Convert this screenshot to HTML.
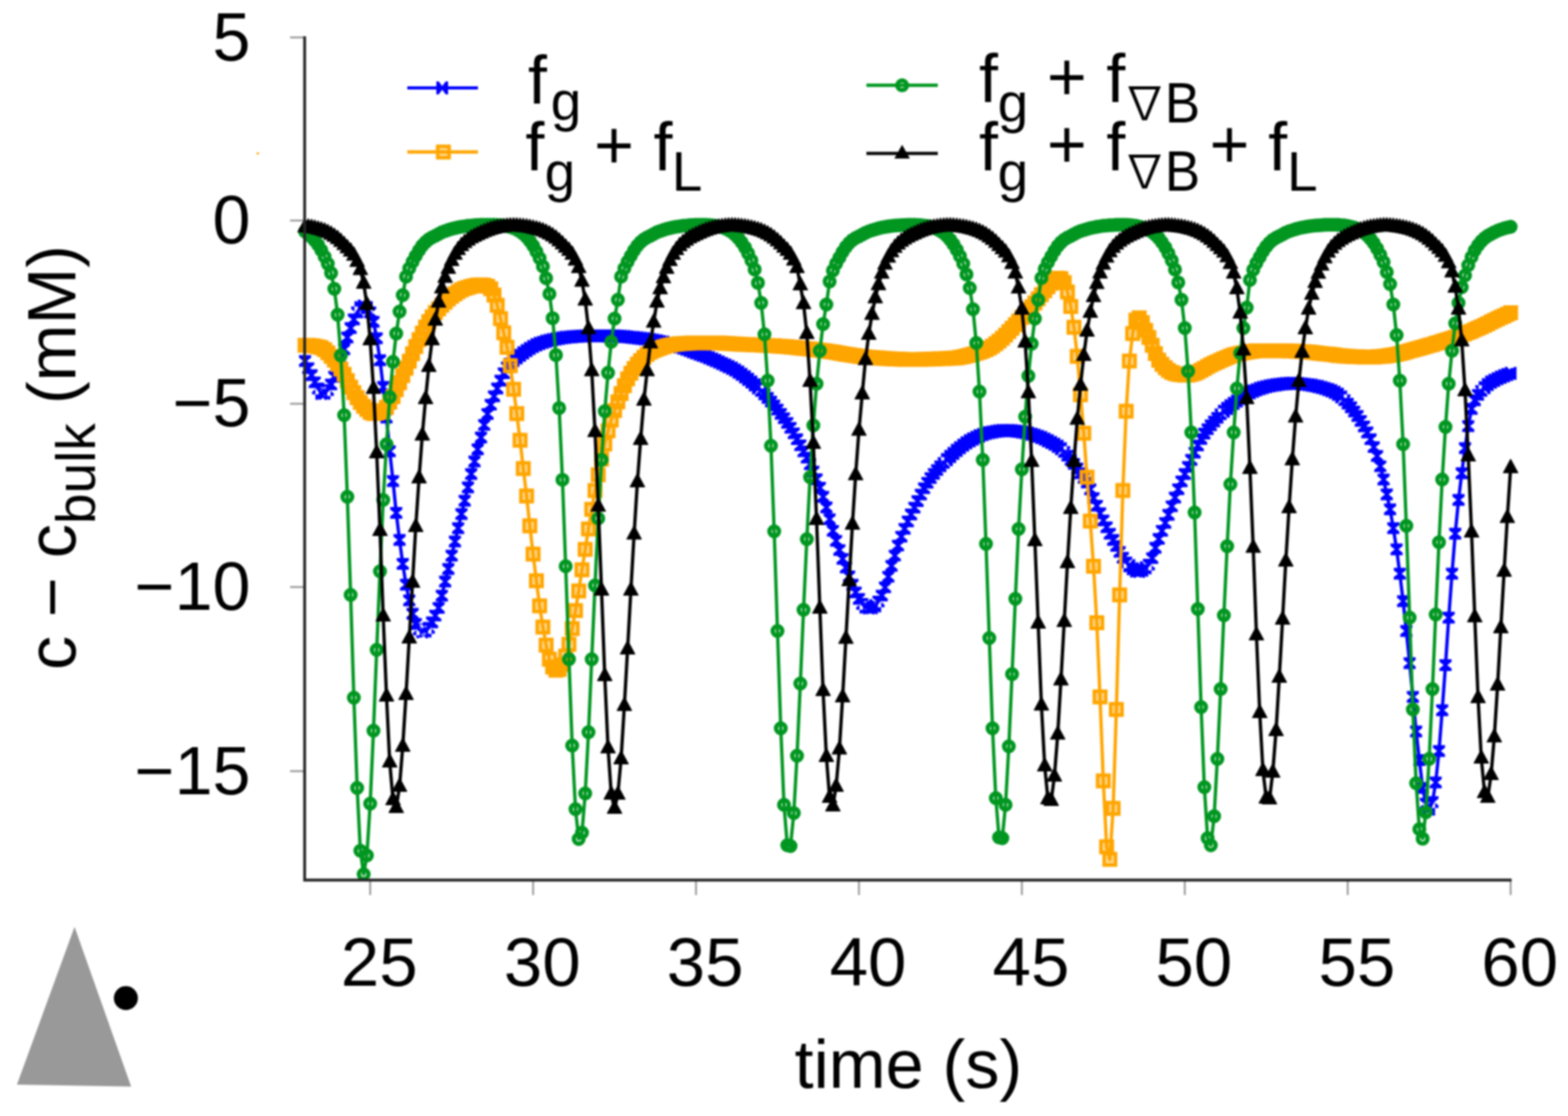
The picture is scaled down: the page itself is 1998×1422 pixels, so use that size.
<!DOCTYPE html>
<html lang="en"><head><meta charset="utf-8"><title>c - c_bulk vs time</title>
<style>
html,body{margin:0;padding:0;background:#fff;}
body{width:1998px;height:1422px;overflow:hidden;}
svg{display:block;filter:blur(1.2px);}
text{font-family:"Liberation Sans",sans-serif;fill:#000;}
</style></head>
<body>
<svg width="1998" height="1422" viewBox="0 0 1998 1422">
<rect width="1998" height="1422" fill="#fff"/>
<polygon points="95,1181 21.6,1382 167.1,1384.5" fill="#999"/>
<circle cx="160.4" cy="1271.7" r="15.3" fill="#000"/>
<rect x="327" y="194" width="3" height="3" fill="#ffa500" opacity="0.8"/>
<g><line x1="471.7" y1="1121" x2="471.7" y2="1140.5" stroke="#9a9a9a" stroke-width="2.4"/><line x1="679.3" y1="1121" x2="679.3" y2="1140.5" stroke="#9a9a9a" stroke-width="2.4"/><line x1="886.9" y1="1121" x2="886.9" y2="1140.5" stroke="#9a9a9a" stroke-width="2.4"/><line x1="1094.5" y1="1121" x2="1094.5" y2="1140.5" stroke="#9a9a9a" stroke-width="2.4"/><line x1="1302.1" y1="1121" x2="1302.1" y2="1140.5" stroke="#9a9a9a" stroke-width="2.4"/><line x1="1509.7" y1="1121" x2="1509.7" y2="1140.5" stroke="#9a9a9a" stroke-width="2.4"/><line x1="1717.3" y1="1121" x2="1717.3" y2="1140.5" stroke="#9a9a9a" stroke-width="2.4"/><line x1="1924.9" y1="1121" x2="1924.9" y2="1140.5" stroke="#9a9a9a" stroke-width="2.4"/><line x1="369.6" y1="47.7" x2="388" y2="47.7" stroke="#9a9a9a" stroke-width="2.4"/><line x1="369.6" y1="281" x2="388" y2="281" stroke="#9a9a9a" stroke-width="2.4"/><line x1="369.6" y1="514.5" x2="388" y2="514.5" stroke="#9a9a9a" stroke-width="2.4"/><line x1="369.6" y1="748" x2="388" y2="748" stroke="#9a9a9a" stroke-width="2.4"/><line x1="369.6" y1="982.6" x2="388" y2="982.6" stroke="#9a9a9a" stroke-width="2.4"/></g>
<g>
<polyline points="388.7,460 392.8,469.1 397,478 401.1,487.1 405.3,495 409.4,501.1 413.6,501 417.7,497 421.9,489.9 426,480 430.2,468 434.3,457 438.5,445 442.6,430 446.8,418 450.9,407 455.1,398 459.2,392 463.4,390 467.5,392 471.7,398 475.9,410 480,431 484.2,459 488.3,493 492.5,532 496.6,575 500.8,613 504.9,653.5 509.1,688 513.2,718.5 517.4,745 521.5,765 525.7,782 529.8,795 534,802 538.1,805 542.3,804 546.4,800 550.6,793 554.7,784.4 558.9,774.6 563,759 567.2,741 571.3,725 575.5,708 579.7,690 583.8,673 588,655 592.1,638 596.3,621 600.4,604 604.6,588 608.7,572.5 612.9,557.5 617,541.4 621.2,527.5 625.3,515.7 629.5,505 633.6,495 637.8,485 641.9,475.6 646.1,468.1 650.2,463.2 654.4,459.3 658.5,456 662.7,452.7 666.8,449.6 671,446.7 675.1,444 679.3,441.5 683.5,439.4 687.6,437.6 691.8,436.2 695.9,434.9 700.1,433.8 704.2,432.8 708.4,432 712.5,431.2 716.7,430.5 720.8,429.9 725,429.5 729.1,429.1 733.3,428.8 737.4,428.5 741.6,428.3 745.7,428.1 749.9,428 754,428 758.2,428 762.3,428 766.5,428 770.6,428 774.8,428.1 778.9,428.1 783.1,428.1 787.3,428.3 791.4,428.6 795.6,428.9 799.7,429.3 803.9,429.7 808,430.1 812.2,430.6 816.3,431.1 820.5,431.6 824.6,432.2 828.8,432.9 832.9,433.6 837.1,434.4 841.2,435.2 845.4,436.1 849.5,437.2 853.7,438.2 857.8,439.4 862,440.6 866.1,442 870.3,443.4 874.4,445 878.6,446.5 882.7,448.1 886.9,449.7 891.1,451.2 895.2,452.7 899.4,454.3 903.5,455.9 907.7,457.6 911.8,459.4 916,461.3 920.1,463.2 924.3,465.1 928.4,467.1 932.6,469.1 936.7,471.5 940.9,474.1 945,477 949.2,480.1 953.3,483.4 957.5,486.8 961.6,490.4 965.8,494.1 969.9,498.1 974.1,502.5 978.2,507 982.4,511.7 986.5,516.7 990.7,521.9 994.9,527.3 999,532.8 1003.2,538.8 1007.3,545.1 1011.5,552.1 1015.6,559.7 1019.8,567.4 1023.9,575.2 1028.1,583.2 1032.2,591.6 1036.4,600.8 1040.5,610.6 1044.7,621.4 1048.8,633 1053,646.5 1057.1,661.6 1061.3,676.3 1065.4,689.1 1069.6,700.8 1073.7,712.1 1077.9,723.2 1082,734.4 1086.2,745 1090.3,754.8 1094.5,763.1 1098.7,769.5 1102.8,773.5 1107,774.4 1111.1,774.1 1115.3,771.9 1119.4,766.3 1123.6,758.8 1127.7,748.4 1131.9,734.8 1136,721 1140.2,707.9 1144.3,695.2 1148.5,683.8 1152.6,673.8 1156.8,664.4 1160.9,655.5 1165.1,646.8 1169.2,638.5 1173.4,630.2 1177.5,622.2 1181.7,615.1 1185.8,609.1 1190,603.8 1194.1,598.9 1198.3,594.2 1202.5,589.8 1206.6,585.6 1210.8,581.6 1214.9,577.7 1219.1,573.9 1223.2,570.5 1227.4,567.3 1231.5,564.3 1235.7,561.6 1239.8,559.4 1244,557.3 1248.1,555.4 1252.3,553.7 1256.4,552.3 1260.6,551.3 1264.7,550.5 1268.9,549.7 1273,549.1 1277.2,548.6 1281.3,548.5 1285.5,548.6 1289.6,548.9 1293.8,549.3 1297.9,549.8 1302.1,550.4 1306.3,551.1 1310.4,552.1 1314.6,553.3 1318.7,554.6 1322.9,556 1327,557.6 1331.2,559.5 1335.3,561.6 1339.5,563.8 1343.6,566 1347.8,568.6 1351.9,571.7 1356.1,575.8 1360.2,580.6 1364.4,585.9 1368.5,591.2 1372.7,597 1376.8,603 1381,608.9 1385.1,614.8 1389.3,623.5 1393.4,634.6 1397.6,644.4 1401.7,654 1405.9,663.1 1410.1,671.8 1414.2,680.1 1418.4,688 1422.5,695.6 1426.7,703.2 1430.8,710.6 1435,716.6 1439.1,720.9 1443.3,724.7 1447.4,727.4 1451.6,727.9 1455.7,726.4 1459.9,723.5 1464,719.4 1468.2,711.2 1472.3,698 1476.5,686.7 1480.6,676.4 1484.8,666.3 1488.9,656 1493.1,645.1 1497.2,634 1501.4,623.3 1505.5,613.3 1509.7,604 1513.9,594.9 1518,586 1522.2,576.8 1526.3,567.6 1530.5,559.3 1534.6,552.5 1538.8,546.9 1542.9,541.9 1547.1,537.1 1551.2,532.3 1555.4,527.9 1559.5,524 1563.7,520.4 1567.8,517.1 1572,514 1576.1,511 1580.3,508 1584.4,505.2 1588.6,502.6 1592.7,500.4 1596.9,498.4 1601,496.7 1605.2,495.1 1609.3,493.9 1613.5,492.8 1617.7,491.8 1621.8,491 1626,490.4 1630.1,489.8 1634.3,489.3 1638.4,488.9 1642.6,488.5 1646.7,488.4 1650.9,488.5 1655,488.7 1659.2,489.2 1663.3,489.7 1667.5,490.3 1671.6,490.9 1675.8,491.7 1679.9,492.6 1684.1,493.7 1688.2,495 1692.4,496.4 1696.5,497.9 1700.7,499.9 1704.8,502.4 1709,505.8 1713.1,509.9 1717.3,514.3 1721.5,519 1725.6,524.3 1729.8,530 1733.9,536.3 1738.1,543.3 1742.2,551 1746.4,559.7 1750.5,569.7 1754.7,581 1758.8,594.1 1763,611 1767.1,630 1771.3,649 1775.4,673 1779.6,700 1783.7,731 1787.9,766 1792,804 1796.2,845 1800.3,888 1804.5,932 1808.6,968.5 1812.8,1004 1816.9,1024 1821.1,1031 1825.3,1022 1829.4,997 1833.6,957 1837.7,905 1841.9,847.5 1846,787 1850.2,731 1854.3,680 1858.5,637 1862.6,603 1866.8,571 1870.9,543 1875.1,521 1879.2,510 1883.4,503.1 1887.5,498.1 1891.7,494 1895.8,490 1900,486.9 1904.1,484.6 1908.3,482.5 1912.4,480.6 1916.6,478.9 1920.7,477.3 1924.9,475.7" fill="none" stroke="#0000ff" stroke-width="4.2" stroke-linejoin="round"/>
<path d="M381 452.6h15.4v3.1L391 460L396.4 464.3v3.1h-15.4v-3.1L386.4 460L381 455.7zM385.1 461.7h15.4v3.1L395.1 469.1L400.5 473.4v3.1h-15.4v-3.1L390.5 469.1L385.1 464.8zM389.3 470.6h15.4v3.1L399.3 478L404.7 482.3v3.1h-15.4v-3.1L394.7 478L389.3 473.7zM393.4 479.7h15.4v3.1L403.4 487.1L408.8 491.4v3.1h-15.4v-3.1L398.8 487.1L393.4 482.8zM397.6 487.6h15.4v3.1L407.6 495L413 499.3v3.1h-15.4v-3.1L403 495L397.6 490.7zM401.9 492.8v16.6h3.1L409.4 503.4L413.8 509.4h3.1v-16.6h-3.1L409.4 498.8L405 492.8zM406.1 492.7v16.6h3.1L413.6 503.3L418 509.3h3.1v-16.6h-3.1L413.6 498.7L409.2 492.7zM410 489.6h15.4v3.1L420 497L425.4 501.3v3.1h-15.4v-3.1L415.4 497L410 492.7zM414.2 482.5h15.4v3.1L424.2 489.9L429.6 494.2v3.1h-15.4v-3.1L419.6 489.9L414.2 485.6zM418.3 472.6h15.4v3.1L428.3 480L433.7 484.3v3.1h-15.4v-3.1L423.7 480L418.3 475.7zM422.5 460.6h15.4v3.1L432.5 468L437.9 472.3v3.1h-15.4v-3.1L427.9 468L422.5 463.7zM426.6 449.6h15.4v3.1L436.6 457L442 461.3v3.1h-15.4v-3.1L432 457L426.6 452.7zM430.8 437.6h15.4v3.1L440.8 445L446.2 449.3v3.1h-15.4v-3.1L436.2 445L430.8 440.7zM434.9 422.6h15.4v3.1L444.9 430L450.3 434.3v3.1h-15.4v-3.1L440.3 430L434.9 425.7zM439.1 410.6h15.4v3.1L449.1 418L454.5 422.3v3.1h-15.4v-3.1L444.5 418L439.1 413.7zM443.2 399.6h15.4v3.1L453.2 407L458.6 411.3v3.1h-15.4v-3.1L448.6 407L443.2 402.7zM447.4 390.6h15.4v3.1L457.4 398L462.8 402.3v3.1h-15.4v-3.1L452.8 398L447.4 393.7zM451.7 383.7v16.6h3.1L459.2 394.3L463.6 400.3h3.1v-16.6h-3.1L459.2 389.7L454.8 383.7zM455.9 381.7v16.6h3.1L463.4 392.3L467.8 398.3h3.1v-16.6h-3.1L463.4 387.7L459 381.7zM460 383.7v16.6h3.1L467.5 394.3L471.9 400.3h3.1v-16.6h-3.1L467.5 389.7L463.1 383.7zM464 390.6h15.4v3.1L474 398L479.4 402.3v3.1h-15.4v-3.1L469.4 398L464 393.7zM468.2 402.6h15.4v3.1L478.2 410L483.6 414.3v3.1h-15.4v-3.1L473.6 410L468.2 405.7zM472.3 423.6h15.4v3.1L482.3 431L487.7 435.3v3.1h-15.4v-3.1L477.7 431L472.3 426.7zM476.5 451.6h15.4v3.1L486.5 459L491.9 463.3v3.1h-15.4v-3.1L481.9 459L476.5 454.7zM480.6 485.6h15.4v3.1L490.6 493L496 497.3v3.1h-15.4v-3.1L486 493L480.6 488.7zM484.8 524.6h15.4v3.1L494.8 532L500.2 536.3v3.1h-15.4v-3.1L490.2 532L484.8 527.7zM488.9 567.6h15.4v3.1L498.9 575L504.3 579.3v3.1h-15.4v-3.1L494.3 575L488.9 570.7zM493.1 605.6h15.4v3.1L503.1 613L508.5 617.3v3.1h-15.4v-3.1L498.5 613L493.1 608.7zM497.2 646.1h15.4v3.1L507.2 653.5L512.6 657.8v3.1h-15.4v-3.1L502.6 653.5L497.2 649.2zM501.4 680.6h15.4v3.1L511.4 688L516.8 692.3v3.1h-15.4v-3.1L506.8 688L501.4 683.7zM505.5 711.1h15.4v3.1L515.5 718.5L520.9 722.8v3.1h-15.4v-3.1L510.9 718.5L505.5 714.2zM509.7 737.6h15.4v3.1L519.7 745L525.1 749.3v3.1h-15.4v-3.1L515.1 745L509.7 740.7zM513.8 757.6h15.4v3.1L523.8 765L529.2 769.3v3.1h-15.4v-3.1L519.2 765L513.8 760.7zM518 774.6h15.4v3.1L528 782L533.4 786.3v3.1h-15.4v-3.1L523.4 782L518 777.7zM522.1 787.6h15.4v3.1L532.1 795L537.5 799.3v3.1h-15.4v-3.1L527.5 795L522.1 790.7zM526.3 794.6h15.4v3.1L536.3 802L541.7 806.3v3.1h-15.4v-3.1L531.7 802L526.3 797.7zM530.6 796.7v16.6h3.1L538.1 807.3L542.5 813.3h3.1v-16.6h-3.1L538.1 802.7L533.7 796.7zM534.8 795.7v16.6h3.1L542.3 806.3L546.7 812.3h3.1v-16.6h-3.1L542.3 801.7L537.9 795.7zM538.7 792.6h15.4v3.1L548.7 800L554.1 804.3v3.1h-15.4v-3.1L544.1 800L538.7 795.7zM542.9 785.6h15.4v3.1L552.9 793L558.3 797.3v3.1h-15.4v-3.1L548.3 793L542.9 788.7zM547 777h15.4v3.1L557 784.4L562.4 788.7v3.1h-15.4v-3.1L552.4 784.4L547 780.1zM551.2 767.2h15.4v3.1L561.2 774.6L566.6 778.9v3.1h-15.4v-3.1L556.6 774.6L551.2 770.3zM555.3 751.6h15.4v3.1L565.3 759L570.7 763.3v3.1h-15.4v-3.1L560.7 759L555.3 754.7zM559.5 733.6h15.4v3.1L569.5 741L574.9 745.3v3.1h-15.4v-3.1L564.9 741L559.5 736.7zM563.6 717.6h15.4v3.1L573.6 725L579 729.3v3.1h-15.4v-3.1L569 725L563.6 720.7zM567.8 700.6h15.4v3.1L577.8 708L583.2 712.3v3.1h-15.4v-3.1L573.2 708L567.8 703.7zM572 682.6h15.4v3.1L582 690L587.4 694.3v3.1h-15.4v-3.1L577.4 690L572 685.7zM576.1 665.6h15.4v3.1L586.1 673L591.5 677.3v3.1h-15.4v-3.1L581.5 673L576.1 668.7zM580.3 647.6h15.4v3.1L590.3 655L595.7 659.3v3.1h-15.4v-3.1L585.7 655L580.3 650.7zM584.4 630.6h15.4v3.1L594.4 638L599.8 642.3v3.1h-15.4v-3.1L589.8 638L584.4 633.7zM588.6 613.6h15.4v3.1L598.6 621L604 625.3v3.1h-15.4v-3.1L594 621L588.6 616.7zM592.7 596.6h15.4v3.1L602.7 604L608.1 608.3v3.1h-15.4v-3.1L598.1 604L592.7 599.7zM596.9 580.6h15.4v3.1L606.9 588L612.3 592.3v3.1h-15.4v-3.1L602.3 588L596.9 583.7zM601 565.1h15.4v3.1L611 572.5L616.4 576.8v3.1h-15.4v-3.1L606.4 572.5L601 568.2zM605.2 550.1h15.4v3.1L615.2 557.5L620.6 561.8v3.1h-15.4v-3.1L610.6 557.5L605.2 553.2zM609.3 534h15.4v3.1L619.3 541.4L624.7 545.7v3.1h-15.4v-3.1L614.7 541.4L609.3 537.1zM613.5 520.1h15.4v3.1L623.5 527.5L628.9 531.8v3.1h-15.4v-3.1L618.9 527.5L613.5 523.2zM617.6 508.3h15.4v3.1L627.6 515.7L633 520v3.1h-15.4v-3.1L623 515.7L617.6 511.4zM621.8 497.6h15.4v3.1L631.8 505L637.2 509.3v3.1h-15.4v-3.1L627.2 505L621.8 500.7zM625.9 487.6h15.4v3.1L635.9 495L641.3 499.3v3.1h-15.4v-3.1L631.3 495L625.9 490.7zM630.1 477.6h15.4v3.1L640.1 485L645.5 489.3v3.1h-15.4v-3.1L635.5 485L630.1 480.7zM634.2 468.2h15.4v3.1L644.2 475.6L649.6 479.9v3.1h-15.4v-3.1L639.6 475.6L634.2 471.3zM638.4 460.7h15.4v3.1L648.4 468.1L653.8 472.4v3.1h-15.4v-3.1L643.8 468.1L638.4 463.8zM642.5 455.8h15.4v3.1L652.5 463.2L657.9 467.5v3.1h-15.4v-3.1L647.9 463.2L642.5 458.9zM646.9 451v16.6h3.1L654.4 461.6L658.8 467.6h3.1v-16.6h-3.1L654.4 457L650 451zM651 447.7v16.6h3.1L658.5 458.3L662.9 464.3h3.1v-16.6h-3.1L658.5 453.7L654.1 447.7zM655.2 444.4v16.6h3.1L662.7 455L667.1 461h3.1v-16.6h-3.1L662.7 450.4L658.3 444.4zM659.3 441.3v16.6h3.1L666.8 451.9L671.2 457.9h3.1v-16.6h-3.1L666.8 447.3L662.4 441.3zM663.5 438.4v16.6h3.1L671 449L675.4 455h3.1v-16.6h-3.1L671 444.4L666.6 438.4zM667.6 435.7v16.6h3.1L675.1 446.3L679.5 452.3h3.1v-16.6h-3.1L675.1 441.7L670.7 435.7zM671.8 433.2v16.6h3.1L679.3 443.8L683.7 449.8h3.1v-16.6h-3.1L679.3 439.2L674.9 433.2zM676 431.1v16.6h3.1L683.5 441.7L687.9 447.7h3.1v-16.6h-3.1L683.5 437.1L679.1 431.1zM680.1 429.3v16.6h3.1L687.6 439.9L692 445.9h3.1v-16.6h-3.1L687.6 435.3L683.2 429.3zM684.3 427.9v16.6h3.1L691.8 438.5L696.2 444.5h3.1v-16.6h-3.1L691.8 433.9L687.4 427.9zM688.4 426.6v16.6h3.1L695.9 437.2L700.3 443.2h3.1v-16.6h-3.1L695.9 432.6L691.5 426.6zM692.6 425.5v16.6h3.1L700.1 436.1L704.5 442.1h3.1v-16.6h-3.1L700.1 431.5L695.7 425.5zM696.7 424.5v16.6h3.1L704.2 435.1L708.6 441.1h3.1v-16.6h-3.1L704.2 430.5L699.8 424.5zM700.9 423.7v16.6h3.1L708.4 434.3L712.8 440.3h3.1v-16.6h-3.1L708.4 429.7L704 423.7zM705 422.9v16.6h3.1L712.5 433.5L716.9 439.5h3.1v-16.6h-3.1L712.5 428.9L708.1 422.9zM709.2 422.2v16.6h3.1L716.7 432.8L721.1 438.8h3.1v-16.6h-3.1L716.7 428.2L712.3 422.2zM713.3 421.6v16.6h3.1L720.8 432.2L725.2 438.2h3.1v-16.6h-3.1L720.8 427.6L716.4 421.6zM717.5 421.2v16.6h3.1L725 431.8L729.4 437.8h3.1v-16.6h-3.1L725 427.2L720.6 421.2zM721.6 420.8v16.6h3.1L729.1 431.4L733.5 437.4h3.1v-16.6h-3.1L729.1 426.8L724.7 420.8zM725.8 420.5v16.6h3.1L733.3 431.1L737.7 437.1h3.1v-16.6h-3.1L733.3 426.5L728.9 420.5zM729.9 420.2v16.6h3.1L737.4 430.8L741.8 436.8h3.1v-16.6h-3.1L737.4 426.2L733 420.2zM734.1 420v16.6h3.1L741.6 430.6L746 436.6h3.1v-16.6h-3.1L741.6 426L737.2 420zM738.2 419.8v16.6h3.1L745.7 430.4L750.1 436.4h3.1v-16.6h-3.1L745.7 425.8L741.3 419.8zM742.4 419.7v16.6h3.1L749.9 430.3L754.3 436.3h3.1v-16.6h-3.1L749.9 425.7L745.5 419.7zM746.5 419.7v16.6h3.1L754 430.3L758.4 436.3h3.1v-16.6h-3.1L754 425.7L749.6 419.7zM750.7 419.7v16.6h3.1L758.2 430.3L762.6 436.3h3.1v-16.6h-3.1L758.2 425.7L753.8 419.7zM754.8 419.7v16.6h3.1L762.3 430.3L766.7 436.3h3.1v-16.6h-3.1L762.3 425.7L757.9 419.7zM759 419.7v16.6h3.1L766.5 430.3L770.9 436.3h3.1v-16.6h-3.1L766.5 425.7L762.1 419.7zM763.1 419.7v16.6h3.1L770.6 430.3L775 436.3h3.1v-16.6h-3.1L770.6 425.7L766.2 419.7zM767.3 419.8v16.6h3.1L774.8 430.4L779.2 436.4h3.1v-16.6h-3.1L774.8 425.8L770.4 419.8zM771.4 419.8v16.6h3.1L778.9 430.4L783.3 436.4h3.1v-16.6h-3.1L778.9 425.8L774.5 419.8zM775.6 419.8v16.6h3.1L783.1 430.4L787.5 436.4h3.1v-16.6h-3.1L783.1 425.8L778.7 419.8zM779.8 420v16.6h3.1L787.3 430.6L791.7 436.6h3.1v-16.6h-3.1L787.3 426L782.9 420zM783.9 420.3v16.6h3.1L791.4 430.9L795.8 436.9h3.1v-16.6h-3.1L791.4 426.3L787 420.3zM788.1 420.6v16.6h3.1L795.6 431.2L800 437.2h3.1v-16.6h-3.1L795.6 426.6L791.2 420.6zM792.2 421v16.6h3.1L799.7 431.6L804.1 437.6h3.1v-16.6h-3.1L799.7 427L795.3 421zM796.4 421.4v16.6h3.1L803.9 432L808.3 438h3.1v-16.6h-3.1L803.9 427.4L799.5 421.4zM800.5 421.8v16.6h3.1L808 432.4L812.4 438.4h3.1v-16.6h-3.1L808 427.8L803.6 421.8zM804.7 422.3v16.6h3.1L812.2 432.9L816.6 438.9h3.1v-16.6h-3.1L812.2 428.3L807.8 422.3zM808.8 422.8v16.6h3.1L816.3 433.4L820.7 439.4h3.1v-16.6h-3.1L816.3 428.8L811.9 422.8zM813 423.3v16.6h3.1L820.5 433.9L824.9 439.9h3.1v-16.6h-3.1L820.5 429.3L816.1 423.3zM817.1 423.9v16.6h3.1L824.6 434.5L829 440.5h3.1v-16.6h-3.1L824.6 429.9L820.2 423.9zM821.3 424.6v16.6h3.1L828.8 435.2L833.2 441.2h3.1v-16.6h-3.1L828.8 430.6L824.4 424.6zM825.4 425.3v16.6h3.1L832.9 435.9L837.3 441.9h3.1v-16.6h-3.1L832.9 431.3L828.5 425.3zM829.6 426.1v16.6h3.1L837.1 436.7L841.5 442.7h3.1v-16.6h-3.1L837.1 432.1L832.7 426.1zM833.7 426.9v16.6h3.1L841.2 437.5L845.6 443.5h3.1v-16.6h-3.1L841.2 432.9L836.8 426.9zM837.9 427.8v16.6h3.1L845.4 438.4L849.8 444.4h3.1v-16.6h-3.1L845.4 433.8L841 427.8zM842 428.9v16.6h3.1L849.5 439.5L853.9 445.5h3.1v-16.6h-3.1L849.5 434.9L845.1 428.9zM846.2 429.9v16.6h3.1L853.7 440.5L858.1 446.5h3.1v-16.6h-3.1L853.7 435.9L849.3 429.9zM850.3 431.1v16.6h3.1L857.8 441.7L862.2 447.7h3.1v-16.6h-3.1L857.8 437.1L853.4 431.1zM854.5 432.3v16.6h3.1L862 442.9L866.4 448.9h3.1v-16.6h-3.1L862 438.3L857.6 432.3zM858.6 433.7v16.6h3.1L866.1 444.3L870.5 450.3h3.1v-16.6h-3.1L866.1 439.7L861.7 433.7zM862.8 435.1v16.6h3.1L870.3 445.7L874.7 451.7h3.1v-16.6h-3.1L870.3 441.1L865.9 435.1zM866.9 436.7v16.6h3.1L874.4 447.3L878.8 453.3h3.1v-16.6h-3.1L874.4 442.7L870 436.7zM871.1 438.2v16.6h3.1L878.6 448.8L883 454.8h3.1v-16.6h-3.1L878.6 444.2L874.2 438.2zM875.2 439.8v16.6h3.1L882.7 450.4L887.1 456.4h3.1v-16.6h-3.1L882.7 445.8L878.3 439.8zM879.4 441.4v16.6h3.1L886.9 452L891.3 458h3.1v-16.6h-3.1L886.9 447.4L882.5 441.4zM883.6 442.9v16.6h3.1L891.1 453.5L895.5 459.5h3.1v-16.6h-3.1L891.1 448.9L886.7 442.9zM887.7 444.4v16.6h3.1L895.2 455L899.6 461h3.1v-16.6h-3.1L895.2 450.4L890.8 444.4zM891.9 446v16.6h3.1L899.4 456.6L903.8 462.6h3.1v-16.6h-3.1L899.4 452L895 446zM896 447.6v16.6h3.1L903.5 458.2L907.9 464.2h3.1v-16.6h-3.1L903.5 453.6L899.1 447.6zM900.2 449.3v16.6h3.1L907.7 459.9L912.1 465.9h3.1v-16.6h-3.1L907.7 455.3L903.3 449.3zM904.3 451.1v16.6h3.1L911.8 461.7L916.2 467.7h3.1v-16.6h-3.1L911.8 457.1L907.4 451.1zM908.5 453v16.6h3.1L916 463.6L920.4 469.6h3.1v-16.6h-3.1L916 459L911.6 453zM912.6 454.9v16.6h3.1L920.1 465.5L924.5 471.5h3.1v-16.6h-3.1L920.1 460.9L915.7 454.9zM916.8 456.8v16.6h3.1L924.3 467.4L928.7 473.4h3.1v-16.6h-3.1L924.3 462.8L919.9 456.8zM920.9 458.8v16.6h3.1L928.4 469.4L932.8 475.4h3.1v-16.6h-3.1L928.4 464.8L924 458.8zM925.1 460.8v16.6h3.1L932.6 471.4L937 477.4h3.1v-16.6h-3.1L932.6 466.8L928.2 460.8zM929.2 463.2v16.6h3.1L936.7 473.8L941.1 479.8h3.1v-16.6h-3.1L936.7 469.2L932.3 463.2zM933.4 465.8v16.6h3.1L940.9 476.4L945.3 482.4h3.1v-16.6h-3.1L940.9 471.8L936.5 465.8zM937.5 468.7v16.6h3.1L945 479.3L949.4 485.3h3.1v-16.6h-3.1L945 474.7L940.6 468.7zM941.7 471.8v16.6h3.1L949.2 482.4L953.6 488.4h3.1v-16.6h-3.1L949.2 477.8L944.8 471.8zM945.8 475.1v16.6h3.1L953.3 485.7L957.7 491.7h3.1v-16.6h-3.1L953.3 481.1L948.9 475.1zM950 478.5v16.6h3.1L957.5 489.1L961.9 495.1h3.1v-16.6h-3.1L957.5 484.5L953.1 478.5zM954.1 482.1v16.6h3.1L961.6 492.7L966 498.7h3.1v-16.6h-3.1L961.6 488.1L957.2 482.1zM958.3 485.8v16.6h3.1L965.8 496.4L970.2 502.4h3.1v-16.6h-3.1L965.8 491.8L961.4 485.8zM962.2 490.7h15.4v3.1L972.2 498.1L977.6 502.4v3.1h-15.4v-3.1L967.6 498.1L962.2 493.8zM966.4 495.1h15.4v3.1L976.4 502.5L981.8 506.8v3.1h-15.4v-3.1L971.8 502.5L966.4 498.2zM970.5 499.6h15.4v3.1L980.5 507L985.9 511.3v3.1h-15.4v-3.1L975.9 507L970.5 502.7zM974.7 504.3h15.4v3.1L984.7 511.7L990.1 516v3.1h-15.4v-3.1L980.1 511.7L974.7 507.4zM978.8 509.3h15.4v3.1L988.8 516.7L994.2 521v3.1h-15.4v-3.1L984.2 516.7L978.8 512.4zM983 514.5h15.4v3.1L993 521.9L998.4 526.2v3.1h-15.4v-3.1L988.4 521.9L983 517.6zM987.2 519.9h15.4v3.1L997.2 527.3L1002.6 531.6v3.1h-15.4v-3.1L992.6 527.3L987.2 523zM991.3 525.4h15.4v3.1L1001.3 532.8L1006.7 537.1v3.1h-15.4v-3.1L996.7 532.8L991.3 528.5zM995.5 531.4h15.4v3.1L1005.5 538.8L1010.9 543.1v3.1h-15.4v-3.1L1000.9 538.8L995.5 534.5zM999.6 537.7h15.4v3.1L1009.6 545.1L1015 549.4v3.1h-15.4v-3.1L1005 545.1L999.6 540.8zM1003.8 544.7h15.4v3.1L1013.8 552.1L1019.2 556.4v3.1h-15.4v-3.1L1009.2 552.1L1003.8 547.8zM1007.9 552.3h15.4v3.1L1017.9 559.7L1023.3 564v3.1h-15.4v-3.1L1013.3 559.7L1007.9 555.4zM1012.1 560h15.4v3.1L1022.1 567.4L1027.5 571.7v3.1h-15.4v-3.1L1017.5 567.4L1012.1 563.1zM1016.2 567.8h15.4v3.1L1026.2 575.2L1031.6 579.5v3.1h-15.4v-3.1L1021.6 575.2L1016.2 570.9zM1020.4 575.8h15.4v3.1L1030.4 583.2L1035.8 587.5v3.1h-15.4v-3.1L1025.8 583.2L1020.4 578.9zM1024.5 584.2h15.4v3.1L1034.5 591.6L1039.9 595.9v3.1h-15.4v-3.1L1029.9 591.6L1024.5 587.3zM1028.7 593.4h15.4v3.1L1038.7 600.8L1044.1 605.1v3.1h-15.4v-3.1L1034.1 600.8L1028.7 596.5zM1032.8 603.2h15.4v3.1L1042.8 610.6L1048.2 614.9v3.1h-15.4v-3.1L1038.2 610.6L1032.8 606.3zM1037 614h15.4v3.1L1047 621.4L1052.4 625.7v3.1h-15.4v-3.1L1042.4 621.4L1037 617.1zM1041.1 625.6h15.4v3.1L1051.1 633L1056.5 637.3v3.1h-15.4v-3.1L1046.5 633L1041.1 628.7zM1045.3 639.1h15.4v3.1L1055.3 646.5L1060.7 650.8v3.1h-15.4v-3.1L1050.7 646.5L1045.3 642.2zM1049.4 654.2h15.4v3.1L1059.4 661.6L1064.8 665.9v3.1h-15.4v-3.1L1054.8 661.6L1049.4 657.3zM1053.6 668.9h15.4v3.1L1063.6 676.3L1069 680.6v3.1h-15.4v-3.1L1059 676.3L1053.6 672zM1057.7 681.7h15.4v3.1L1067.7 689.1L1073.1 693.4v3.1h-15.4v-3.1L1063.1 689.1L1057.7 684.8zM1061.9 693.4h15.4v3.1L1071.9 700.8L1077.3 705.1v3.1h-15.4v-3.1L1067.3 700.8L1061.9 696.5zM1066 704.7h15.4v3.1L1076 712.1L1081.4 716.4v3.1h-15.4v-3.1L1071.4 712.1L1066 707.8zM1070.2 715.8h15.4v3.1L1080.2 723.2L1085.6 727.5v3.1h-15.4v-3.1L1075.6 723.2L1070.2 718.9zM1074.3 727h15.4v3.1L1084.3 734.4L1089.7 738.7v3.1h-15.4v-3.1L1079.7 734.4L1074.3 730.1zM1078.5 737.6h15.4v3.1L1088.5 745L1093.9 749.3v3.1h-15.4v-3.1L1083.9 745L1078.5 740.7zM1082.6 747.4h15.4v3.1L1092.6 754.8L1098 759.1v3.1h-15.4v-3.1L1088 754.8L1082.6 750.5zM1086.8 755.7h15.4v3.1L1096.8 763.1L1102.2 767.4v3.1h-15.4v-3.1L1092.2 763.1L1086.8 758.8zM1091 762.1h15.4v3.1L1101 769.5L1106.4 773.8v3.1h-15.4v-3.1L1096.4 769.5L1091 765.2zM1095.3 765.2v16.6h3.1L1102.8 775.8L1107.2 781.8h3.1v-16.6h-3.1L1102.8 771.2L1098.4 765.2zM1099.5 766.1v16.6h3.1L1107 776.7L1111.4 782.7h3.1v-16.6h-3.1L1107 772.1L1102.6 766.1zM1103.6 765.8v16.6h3.1L1111.1 776.4L1115.5 782.4h3.1v-16.6h-3.1L1111.1 771.8L1106.7 765.8zM1107.8 763.6v16.6h3.1L1115.3 774.2L1119.7 780.2h3.1v-16.6h-3.1L1115.3 769.6L1110.9 763.6zM1111.7 758.9h15.4v3.1L1121.7 766.3L1127.1 770.6v3.1h-15.4v-3.1L1117.1 766.3L1111.7 762zM1115.9 751.4h15.4v3.1L1125.9 758.8L1131.3 763.1v3.1h-15.4v-3.1L1121.3 758.8L1115.9 754.5zM1120 741h15.4v3.1L1130 748.4L1135.4 752.7v3.1h-15.4v-3.1L1125.4 748.4L1120 744.1zM1124.2 727.4h15.4v3.1L1134.2 734.8L1139.6 739.1v3.1h-15.4v-3.1L1129.6 734.8L1124.2 730.5zM1128.3 713.6h15.4v3.1L1138.3 721L1143.7 725.3v3.1h-15.4v-3.1L1133.7 721L1128.3 716.7zM1132.5 700.5h15.4v3.1L1142.5 707.9L1147.9 712.2v3.1h-15.4v-3.1L1137.9 707.9L1132.5 703.6zM1136.6 687.8h15.4v3.1L1146.6 695.2L1152 699.5v3.1h-15.4v-3.1L1142 695.2L1136.6 690.9zM1140.8 676.4h15.4v3.1L1150.8 683.8L1156.2 688.1v3.1h-15.4v-3.1L1146.2 683.8L1140.8 679.5zM1144.9 666.4h15.4v3.1L1154.9 673.8L1160.3 678.1v3.1h-15.4v-3.1L1150.3 673.8L1144.9 669.5zM1149.1 657h15.4v3.1L1159.1 664.4L1164.5 668.7v3.1h-15.4v-3.1L1154.5 664.4L1149.1 660.1zM1153.2 648.1h15.4v3.1L1163.2 655.5L1168.6 659.8v3.1h-15.4v-3.1L1158.6 655.5L1153.2 651.2zM1157.4 639.4h15.4v3.1L1167.4 646.8L1172.8 651.1v3.1h-15.4v-3.1L1162.8 646.8L1157.4 642.5zM1161.5 631.1h15.4v3.1L1171.5 638.5L1176.9 642.8v3.1h-15.4v-3.1L1166.9 638.5L1161.5 634.2zM1165.7 622.8h15.4v3.1L1175.7 630.2L1181.1 634.5v3.1h-15.4v-3.1L1171.1 630.2L1165.7 625.9zM1169.8 614.8h15.4v3.1L1179.8 622.2L1185.2 626.5v3.1h-15.4v-3.1L1175.2 622.2L1169.8 617.9zM1174 607.7h15.4v3.1L1184 615.1L1189.4 619.4v3.1h-15.4v-3.1L1179.4 615.1L1174 610.8zM1178.1 601.7h15.4v3.1L1188.1 609.1L1193.5 613.4v3.1h-15.4v-3.1L1183.5 609.1L1178.1 604.8zM1182.3 596.4h15.4v3.1L1192.3 603.8L1197.7 608.1v3.1h-15.4v-3.1L1187.7 603.8L1182.3 599.5zM1186.4 591.5h15.4v3.1L1196.4 598.9L1201.8 603.2v3.1h-15.4v-3.1L1191.8 598.9L1186.4 594.6zM1190.6 586.8h15.4v3.1L1200.6 594.2L1206 598.5v3.1h-15.4v-3.1L1196 594.2L1190.6 589.9zM1194.8 582.4h15.4v3.1L1204.8 589.8L1210.2 594.1v3.1h-15.4v-3.1L1200.2 589.8L1194.8 585.5zM1199.1 577.3v16.6h3.1L1206.6 587.9L1211 593.9h3.1v-16.6h-3.1L1206.6 583.3L1202.2 577.3zM1203.3 573.3v16.6h3.1L1210.8 583.9L1215.2 589.9h3.1v-16.6h-3.1L1210.8 579.3L1206.4 573.3zM1207.4 569.4v16.6h3.1L1214.9 580L1219.3 586h3.1v-16.6h-3.1L1214.9 575.4L1210.5 569.4zM1211.6 565.6v16.6h3.1L1219.1 576.2L1223.5 582.2h3.1v-16.6h-3.1L1219.1 571.6L1214.7 565.6zM1215.7 562.2v16.6h3.1L1223.2 572.8L1227.6 578.8h3.1v-16.6h-3.1L1223.2 568.2L1218.8 562.2zM1219.9 559v16.6h3.1L1227.4 569.6L1231.8 575.6h3.1v-16.6h-3.1L1227.4 565L1223 559zM1224 556v16.6h3.1L1231.5 566.6L1235.9 572.6h3.1v-16.6h-3.1L1231.5 562L1227.1 556zM1228.2 553.3v16.6h3.1L1235.7 563.9L1240.1 569.9h3.1v-16.6h-3.1L1235.7 559.3L1231.3 553.3zM1232.3 551.1v16.6h3.1L1239.8 561.7L1244.2 567.7h3.1v-16.6h-3.1L1239.8 557.1L1235.4 551.1zM1236.5 549v16.6h3.1L1244 559.6L1248.4 565.6h3.1v-16.6h-3.1L1244 555L1239.6 549zM1240.6 547.1v16.6h3.1L1248.1 557.7L1252.5 563.7h3.1v-16.6h-3.1L1248.1 553.1L1243.7 547.1zM1244.8 545.4v16.6h3.1L1252.3 556L1256.7 562h3.1v-16.6h-3.1L1252.3 551.4L1247.9 545.4zM1248.9 544v16.6h3.1L1256.4 554.6L1260.8 560.6h3.1v-16.6h-3.1L1256.4 550L1252 544zM1253.1 543v16.6h3.1L1260.6 553.6L1265 559.6h3.1v-16.6h-3.1L1260.6 549L1256.2 543zM1257.2 542.2v16.6h3.1L1264.7 552.8L1269.1 558.8h3.1v-16.6h-3.1L1264.7 548.2L1260.3 542.2zM1261.4 541.4v16.6h3.1L1268.9 552L1273.3 558h3.1v-16.6h-3.1L1268.9 547.4L1264.5 541.4zM1265.5 540.8v16.6h3.1L1273 551.4L1277.4 557.4h3.1v-16.6h-3.1L1273 546.8L1268.6 540.8zM1269.7 540.3v16.6h3.1L1277.2 550.9L1281.6 556.9h3.1v-16.6h-3.1L1277.2 546.3L1272.8 540.3zM1273.8 540.2v16.6h3.1L1281.3 550.8L1285.7 556.8h3.1v-16.6h-3.1L1281.3 546.2L1276.9 540.2zM1278 540.3v16.6h3.1L1285.5 550.9L1289.9 556.9h3.1v-16.6h-3.1L1285.5 546.3L1281.1 540.3zM1282.1 540.6v16.6h3.1L1289.6 551.2L1294 557.2h3.1v-16.6h-3.1L1289.6 546.6L1285.2 540.6zM1286.3 541v16.6h3.1L1293.8 551.6L1298.2 557.6h3.1v-16.6h-3.1L1293.8 547L1289.4 541zM1290.4 541.5v16.6h3.1L1297.9 552.1L1302.3 558.1h3.1v-16.6h-3.1L1297.9 547.5L1293.5 541.5zM1294.6 542.1v16.6h3.1L1302.1 552.7L1306.5 558.7h3.1v-16.6h-3.1L1302.1 548.1L1297.7 542.1zM1298.8 542.8v16.6h3.1L1306.3 553.4L1310.7 559.4h3.1v-16.6h-3.1L1306.3 548.8L1301.9 542.8zM1302.9 543.8v16.6h3.1L1310.4 554.4L1314.8 560.4h3.1v-16.6h-3.1L1310.4 549.8L1306 543.8zM1307.1 545v16.6h3.1L1314.6 555.6L1319 561.6h3.1v-16.6h-3.1L1314.6 551L1310.2 545zM1311.2 546.3v16.6h3.1L1318.7 556.9L1323.1 562.9h3.1v-16.6h-3.1L1318.7 552.3L1314.3 546.3zM1315.4 547.7v16.6h3.1L1322.9 558.3L1327.3 564.3h3.1v-16.6h-3.1L1322.9 553.7L1318.5 547.7zM1319.5 549.3v16.6h3.1L1327 559.9L1331.4 565.9h3.1v-16.6h-3.1L1327 555.3L1322.6 549.3zM1323.7 551.2v16.6h3.1L1331.2 561.8L1335.6 567.8h3.1v-16.6h-3.1L1331.2 557.2L1326.8 551.2zM1327.8 553.3v16.6h3.1L1335.3 563.9L1339.7 569.9h3.1v-16.6h-3.1L1335.3 559.3L1330.9 553.3zM1332 555.5v16.6h3.1L1339.5 566.1L1343.9 572.1h3.1v-16.6h-3.1L1339.5 561.5L1335.1 555.5zM1336.1 557.7v16.6h3.1L1343.6 568.3L1348 574.3h3.1v-16.6h-3.1L1343.6 563.7L1339.2 557.7zM1340.3 560.3v16.6h3.1L1347.8 570.9L1352.2 576.9h3.1v-16.6h-3.1L1347.8 566.3L1343.4 560.3zM1344.4 563.4v16.6h3.1L1351.9 574L1356.3 580h3.1v-16.6h-3.1L1351.9 569.4L1347.5 563.4zM1348.4 568.4h15.4v3.1L1358.4 575.8L1363.8 580.1v3.1h-15.4v-3.1L1353.8 575.8L1348.4 571.5zM1352.5 573.2h15.4v3.1L1362.5 580.6L1367.9 584.9v3.1h-15.4v-3.1L1357.9 580.6L1352.5 576.3zM1356.7 578.5h15.4v3.1L1366.7 585.9L1372.1 590.2v3.1h-15.4v-3.1L1362.1 585.9L1356.7 581.6zM1360.8 583.8h15.4v3.1L1370.8 591.2L1376.2 595.5v3.1h-15.4v-3.1L1366.2 591.2L1360.8 586.9zM1365 589.6h15.4v3.1L1375 597L1380.4 601.3v3.1h-15.4v-3.1L1370.4 597L1365 592.7zM1369.1 595.6h15.4v3.1L1379.1 603L1384.5 607.3v3.1h-15.4v-3.1L1374.5 603L1369.1 598.7zM1373.3 601.5h15.4v3.1L1383.3 608.9L1388.7 613.2v3.1h-15.4v-3.1L1378.7 608.9L1373.3 604.6zM1377.4 607.4h15.4v3.1L1387.4 614.8L1392.8 619.1v3.1h-15.4v-3.1L1382.8 614.8L1377.4 610.5zM1381.6 616.1h15.4v3.1L1391.6 623.5L1397 627.8v3.1h-15.4v-3.1L1387 623.5L1381.6 619.2zM1385.7 627.2h15.4v3.1L1395.7 634.6L1401.1 638.9v3.1h-15.4v-3.1L1391.1 634.6L1385.7 630.3zM1389.9 637h15.4v3.1L1399.9 644.4L1405.3 648.7v3.1h-15.4v-3.1L1395.3 644.4L1389.9 640.1zM1394 646.6h15.4v3.1L1404 654L1409.4 658.3v3.1h-15.4v-3.1L1399.4 654L1394 649.7zM1398.2 655.7h15.4v3.1L1408.2 663.1L1413.6 667.4v3.1h-15.4v-3.1L1403.6 663.1L1398.2 658.8zM1402.4 664.4h15.4v3.1L1412.4 671.8L1417.8 676.1v3.1h-15.4v-3.1L1407.8 671.8L1402.4 667.5zM1406.5 672.7h15.4v3.1L1416.5 680.1L1421.9 684.4v3.1h-15.4v-3.1L1411.9 680.1L1406.5 675.8zM1410.7 680.6h15.4v3.1L1420.7 688L1426.1 692.3v3.1h-15.4v-3.1L1416.1 688L1410.7 683.7zM1414.8 688.2h15.4v3.1L1424.8 695.6L1430.2 699.9v3.1h-15.4v-3.1L1420.2 695.6L1414.8 691.3zM1419 695.8h15.4v3.1L1429 703.2L1434.4 707.5v3.1h-15.4v-3.1L1424.4 703.2L1419 698.9zM1423.1 703.2h15.4v3.1L1433.1 710.6L1438.5 714.9v3.1h-15.4v-3.1L1428.5 710.6L1423.1 706.3zM1427.3 709.2h15.4v3.1L1437.3 716.6L1442.7 720.9v3.1h-15.4v-3.1L1432.7 716.6L1427.3 712.3zM1431.6 712.6v16.6h3.1L1439.1 723.2L1443.5 729.2h3.1v-16.6h-3.1L1439.1 718.6L1434.7 712.6zM1435.8 716.4v16.6h3.1L1443.3 727L1447.7 733h3.1v-16.6h-3.1L1443.3 722.4L1438.9 716.4zM1439.9 719.1v16.6h3.1L1447.4 729.7L1451.8 735.7h3.1v-16.6h-3.1L1447.4 725.1L1443 719.1zM1444.1 719.6v16.6h3.1L1451.6 730.2L1456 736.2h3.1v-16.6h-3.1L1451.6 725.6L1447.2 719.6zM1448.2 718.1v16.6h3.1L1455.7 728.7L1460.1 734.7h3.1v-16.6h-3.1L1455.7 724.1L1451.3 718.1zM1452.4 715.2v16.6h3.1L1459.9 725.8L1464.3 731.8h3.1v-16.6h-3.1L1459.9 721.2L1455.5 715.2zM1456.3 712h15.4v3.1L1466.3 719.4L1471.7 723.7v3.1h-15.4v-3.1L1461.7 719.4L1456.3 715.1zM1460.5 703.8h15.4v3.1L1470.5 711.2L1475.9 715.5v3.1h-15.4v-3.1L1465.9 711.2L1460.5 706.9zM1464.6 690.6h15.4v3.1L1474.6 698L1480 702.3v3.1h-15.4v-3.1L1470 698L1464.6 693.7zM1468.8 679.3h15.4v3.1L1478.8 686.7L1484.2 691v3.1h-15.4v-3.1L1474.2 686.7L1468.8 682.4zM1472.9 669h15.4v3.1L1482.9 676.4L1488.3 680.7v3.1h-15.4v-3.1L1478.3 676.4L1472.9 672.1zM1477.1 658.9h15.4v3.1L1487.1 666.3L1492.5 670.6v3.1h-15.4v-3.1L1482.5 666.3L1477.1 662zM1481.2 648.6h15.4v3.1L1491.2 656L1496.6 660.3v3.1h-15.4v-3.1L1486.6 656L1481.2 651.7zM1485.4 637.7h15.4v3.1L1495.4 645.1L1500.8 649.4v3.1h-15.4v-3.1L1490.8 645.1L1485.4 640.8zM1489.5 626.6h15.4v3.1L1499.5 634L1504.9 638.3v3.1h-15.4v-3.1L1494.9 634L1489.5 629.7zM1493.7 615.9h15.4v3.1L1503.7 623.3L1509.1 627.6v3.1h-15.4v-3.1L1499.1 623.3L1493.7 619zM1497.8 605.9h15.4v3.1L1507.8 613.3L1513.2 617.6v3.1h-15.4v-3.1L1503.2 613.3L1497.8 609zM1502 596.6h15.4v3.1L1512 604L1517.4 608.3v3.1h-15.4v-3.1L1507.4 604L1502 599.7zM1506.2 587.5h15.4v3.1L1516.2 594.9L1521.6 599.2v3.1h-15.4v-3.1L1511.6 594.9L1506.2 590.6zM1510.3 578.6h15.4v3.1L1520.3 586L1525.7 590.3v3.1h-15.4v-3.1L1515.7 586L1510.3 581.7zM1514.5 569.4h15.4v3.1L1524.5 576.8L1529.9 581.1v3.1h-15.4v-3.1L1519.9 576.8L1514.5 572.5zM1518.6 560.2h15.4v3.1L1528.6 567.6L1534 571.9v3.1h-15.4v-3.1L1524 567.6L1518.6 563.3zM1522.8 551.9h15.4v3.1L1532.8 559.3L1538.2 563.6v3.1h-15.4v-3.1L1528.2 559.3L1522.8 555zM1526.9 545.1h15.4v3.1L1536.9 552.5L1542.3 556.8v3.1h-15.4v-3.1L1532.3 552.5L1526.9 548.2zM1531.1 539.5h15.4v3.1L1541.1 546.9L1546.5 551.2v3.1h-15.4v-3.1L1536.5 546.9L1531.1 542.6zM1535.2 534.5h15.4v3.1L1545.2 541.9L1550.6 546.2v3.1h-15.4v-3.1L1540.6 541.9L1535.2 537.6zM1539.4 529.7h15.4v3.1L1549.4 537.1L1554.8 541.4v3.1h-15.4v-3.1L1544.8 537.1L1539.4 532.8zM1543.5 524.9h15.4v3.1L1553.5 532.3L1558.9 536.6v3.1h-15.4v-3.1L1548.9 532.3L1543.5 528zM1547.7 520.5h15.4v3.1L1557.7 527.9L1563.1 532.2v3.1h-15.4v-3.1L1553.1 527.9L1547.7 523.6zM1552 515.7v16.6h3.1L1559.5 526.3L1563.9 532.3h3.1v-16.6h-3.1L1559.5 521.7L1555.1 515.7zM1556.2 512.1v16.6h3.1L1563.7 522.7L1568.1 528.7h3.1v-16.6h-3.1L1563.7 518.1L1559.3 512.1zM1560.3 508.8v16.6h3.1L1567.8 519.4L1572.2 525.4h3.1v-16.6h-3.1L1567.8 514.8L1563.4 508.8zM1564.5 505.7v16.6h3.1L1572 516.3L1576.4 522.3h3.1v-16.6h-3.1L1572 511.7L1567.6 505.7zM1568.6 502.7v16.6h3.1L1576.1 513.3L1580.5 519.3h3.1v-16.6h-3.1L1576.1 508.7L1571.7 502.7zM1572.8 499.7v16.6h3.1L1580.3 510.3L1584.7 516.3h3.1v-16.6h-3.1L1580.3 505.7L1575.9 499.7zM1576.9 496.9v16.6h3.1L1584.4 507.5L1588.8 513.5h3.1v-16.6h-3.1L1584.4 502.9L1580 496.9zM1581.1 494.3v16.6h3.1L1588.6 504.9L1593 510.9h3.1v-16.6h-3.1L1588.6 500.3L1584.2 494.3zM1585.2 492.1v16.6h3.1L1592.7 502.7L1597.1 508.7h3.1v-16.6h-3.1L1592.7 498.1L1588.3 492.1zM1589.4 490.1v16.6h3.1L1596.9 500.7L1601.3 506.7h3.1v-16.6h-3.1L1596.9 496.1L1592.5 490.1zM1593.5 488.4v16.6h3.1L1601 499L1605.4 505h3.1v-16.6h-3.1L1601 494.4L1596.6 488.4zM1597.7 486.8v16.6h3.1L1605.2 497.4L1609.6 503.4h3.1v-16.6h-3.1L1605.2 492.8L1600.8 486.8zM1601.8 485.6v16.6h3.1L1609.3 496.2L1613.7 502.2h3.1v-16.6h-3.1L1609.3 491.6L1604.9 485.6zM1606 484.5v16.6h3.1L1613.5 495.1L1617.9 501.1h3.1v-16.6h-3.1L1613.5 490.5L1609.1 484.5zM1610.2 483.5v16.6h3.1L1617.7 494.1L1622.1 500.1h3.1v-16.6h-3.1L1617.7 489.5L1613.3 483.5zM1614.3 482.7v16.6h3.1L1621.8 493.3L1626.2 499.3h3.1v-16.6h-3.1L1621.8 488.7L1617.4 482.7zM1618.5 482.1v16.6h3.1L1626 492.7L1630.4 498.7h3.1v-16.6h-3.1L1626 488.1L1621.6 482.1zM1622.6 481.5v16.6h3.1L1630.1 492.1L1634.5 498.1h3.1v-16.6h-3.1L1630.1 487.5L1625.7 481.5zM1626.8 481v16.6h3.1L1634.3 491.6L1638.7 497.6h3.1v-16.6h-3.1L1634.3 487L1629.9 481zM1630.9 480.6v16.6h3.1L1638.4 491.2L1642.8 497.2h3.1v-16.6h-3.1L1638.4 486.6L1634 480.6zM1635.1 480.2v16.6h3.1L1642.6 490.8L1647 496.8h3.1v-16.6h-3.1L1642.6 486.2L1638.2 480.2zM1639.2 480.1v16.6h3.1L1646.7 490.7L1651.1 496.7h3.1v-16.6h-3.1L1646.7 486.1L1642.3 480.1zM1643.4 480.2v16.6h3.1L1650.9 490.8L1655.3 496.8h3.1v-16.6h-3.1L1650.9 486.2L1646.5 480.2zM1647.5 480.4v16.6h3.1L1655 491L1659.4 497h3.1v-16.6h-3.1L1655 486.4L1650.6 480.4zM1651.7 480.9v16.6h3.1L1659.2 491.5L1663.6 497.5h3.1v-16.6h-3.1L1659.2 486.9L1654.8 480.9zM1655.8 481.4v16.6h3.1L1663.3 492L1667.7 498h3.1v-16.6h-3.1L1663.3 487.4L1658.9 481.4zM1660 482v16.6h3.1L1667.5 492.6L1671.9 498.6h3.1v-16.6h-3.1L1667.5 488L1663.1 482zM1664.1 482.6v16.6h3.1L1671.6 493.2L1676 499.2h3.1v-16.6h-3.1L1671.6 488.6L1667.2 482.6zM1668.3 483.4v16.6h3.1L1675.8 494L1680.2 500h3.1v-16.6h-3.1L1675.8 489.4L1671.4 483.4zM1672.4 484.3v16.6h3.1L1679.9 494.9L1684.3 500.9h3.1v-16.6h-3.1L1679.9 490.3L1675.5 484.3zM1676.6 485.4v16.6h3.1L1684.1 496L1688.5 502h3.1v-16.6h-3.1L1684.1 491.4L1679.7 485.4zM1680.7 486.7v16.6h3.1L1688.2 497.3L1692.6 503.3h3.1v-16.6h-3.1L1688.2 492.7L1683.8 486.7zM1684.9 488.1v16.6h3.1L1692.4 498.7L1696.8 504.7h3.1v-16.6h-3.1L1692.4 494.1L1688 488.1zM1689 489.6v16.6h3.1L1696.5 500.2L1700.9 506.2h3.1v-16.6h-3.1L1696.5 495.6L1692.1 489.6zM1693.2 491.6v16.6h3.1L1700.7 502.2L1705.1 508.2h3.1v-16.6h-3.1L1700.7 497.6L1696.3 491.6zM1697.3 494.1v16.6h3.1L1704.8 504.7L1709.2 510.7h3.1v-16.6h-3.1L1704.8 500.1L1700.4 494.1zM1701.5 497.5v16.6h3.1L1709 508.1L1713.4 514.1h3.1v-16.6h-3.1L1709 503.5L1704.6 497.5zM1705.4 502.5h15.4v3.1L1715.4 509.9L1720.8 514.2v3.1h-15.4v-3.1L1710.8 509.9L1705.4 505.6zM1709.6 506.9h15.4v3.1L1719.6 514.3L1725 518.6v3.1h-15.4v-3.1L1715 514.3L1709.6 510zM1713.8 511.6h15.4v3.1L1723.8 519L1729.2 523.3v3.1h-15.4v-3.1L1719.2 519L1713.8 514.7zM1717.9 516.9h15.4v3.1L1727.9 524.3L1733.3 528.6v3.1h-15.4v-3.1L1723.3 524.3L1717.9 520zM1722.1 522.6h15.4v3.1L1732.1 530L1737.5 534.3v3.1h-15.4v-3.1L1727.5 530L1722.1 525.7zM1726.2 528.9h15.4v3.1L1736.2 536.3L1741.6 540.6v3.1h-15.4v-3.1L1731.6 536.3L1726.2 532zM1730.4 535.9h15.4v3.1L1740.4 543.3L1745.8 547.6v3.1h-15.4v-3.1L1735.8 543.3L1730.4 539zM1734.5 543.6h15.4v3.1L1744.5 551L1749.9 555.3v3.1h-15.4v-3.1L1739.9 551L1734.5 546.7zM1738.7 552.3h15.4v3.1L1748.7 559.7L1754.1 564v3.1h-15.4v-3.1L1744.1 559.7L1738.7 555.4zM1742.8 562.3h15.4v3.1L1752.8 569.7L1758.2 574v3.1h-15.4v-3.1L1748.2 569.7L1742.8 565.4zM1747 573.6h15.4v3.1L1757 581L1762.4 585.3v3.1h-15.4v-3.1L1752.4 581L1747 576.7zM1751.1 586.7h15.4v3.1L1761.1 594.1L1766.5 598.4v3.1h-15.4v-3.1L1756.5 594.1L1751.1 589.8zM1755.3 603.6h15.4v3.1L1765.3 611L1770.7 615.3v3.1h-15.4v-3.1L1760.7 611L1755.3 606.7zM1759.4 622.6h15.4v3.1L1769.4 630L1774.8 634.3v3.1h-15.4v-3.1L1764.8 630L1759.4 625.7zM1763.6 641.6h15.4v3.1L1773.6 649L1779 653.3v3.1h-15.4v-3.1L1769 649L1763.6 644.7zM1767.7 665.6h15.4v3.1L1777.7 673L1783.1 677.3v3.1h-15.4v-3.1L1773.1 673L1767.7 668.7zM1771.9 692.6h15.4v3.1L1781.9 700L1787.3 704.3v3.1h-15.4v-3.1L1777.3 700L1771.9 695.7zM1776 723.6h15.4v3.1L1786 731L1791.4 735.3v3.1h-15.4v-3.1L1781.4 731L1776 726.7zM1780.2 758.6h15.4v3.1L1790.2 766L1795.6 770.3v3.1h-15.4v-3.1L1785.6 766L1780.2 761.7zM1784.3 796.6h15.4v3.1L1794.3 804L1799.7 808.3v3.1h-15.4v-3.1L1789.7 804L1784.3 799.7zM1788.5 837.6h15.4v3.1L1798.5 845L1803.9 849.3v3.1h-15.4v-3.1L1793.9 845L1788.5 840.7zM1792.6 880.6h15.4v3.1L1802.6 888L1808 892.3v3.1h-15.4v-3.1L1798 888L1792.6 883.7zM1796.8 924.6h15.4v3.1L1806.8 932L1812.2 936.3v3.1h-15.4v-3.1L1802.2 932L1796.8 927.7zM1800.9 961.1h15.4v3.1L1810.9 968.5L1816.3 972.8v3.1h-15.4v-3.1L1806.3 968.5L1800.9 964.2zM1805.1 996.6h15.4v3.1L1815.1 1004L1820.5 1008.3v3.1h-15.4v-3.1L1810.5 1004L1805.1 999.7zM1809.2 1016.6h15.4v3.1L1819.2 1024L1824.6 1028.3v3.1h-15.4v-3.1L1814.6 1024L1809.2 1019.7zM1813.6 1022.7v16.6h3.1L1821.1 1033.3L1825.5 1039.3h3.1v-16.6h-3.1L1821.1 1028.7L1816.7 1022.7zM1817.6 1014.6h15.4v3.1L1827.6 1022L1833 1026.3v3.1h-15.4v-3.1L1823 1022L1817.6 1017.7zM1821.7 989.6h15.4v3.1L1831.7 997L1837.1 1001.3v3.1h-15.4v-3.1L1827.1 997L1821.7 992.7zM1825.9 949.6h15.4v3.1L1835.9 957L1841.3 961.3v3.1h-15.4v-3.1L1831.3 957L1825.9 952.7zM1830 897.6h15.4v3.1L1840 905L1845.4 909.3v3.1h-15.4v-3.1L1835.4 905L1830 900.7zM1834.2 840.1h15.4v3.1L1844.2 847.5L1849.6 851.8v3.1h-15.4v-3.1L1839.6 847.5L1834.2 843.2zM1838.3 779.6h15.4v3.1L1848.3 787L1853.7 791.3v3.1h-15.4v-3.1L1843.7 787L1838.3 782.7zM1842.5 723.6h15.4v3.1L1852.5 731L1857.9 735.3v3.1h-15.4v-3.1L1847.9 731L1842.5 726.7zM1846.6 672.6h15.4v3.1L1856.6 680L1862 684.3v3.1h-15.4v-3.1L1852 680L1846.6 675.7zM1850.8 629.6h15.4v3.1L1860.8 637L1866.2 641.3v3.1h-15.4v-3.1L1856.2 637L1850.8 632.7zM1854.9 595.6h15.4v3.1L1864.9 603L1870.3 607.3v3.1h-15.4v-3.1L1860.3 603L1854.9 598.7zM1859.1 563.6h15.4v3.1L1869.1 571L1874.5 575.3v3.1h-15.4v-3.1L1864.5 571L1859.1 566.7zM1863.2 535.6h15.4v3.1L1873.2 543L1878.6 547.3v3.1h-15.4v-3.1L1868.6 543L1863.2 538.7zM1867.4 513.6h15.4v3.1L1877.4 521L1882.8 525.3v3.1h-15.4v-3.1L1872.8 521L1867.4 516.7zM1871.5 502.6h15.4v3.1L1881.5 510L1886.9 514.3v3.1h-15.4v-3.1L1876.9 510L1871.5 505.7zM1875.7 495.7h15.4v3.1L1885.7 503.1L1891.1 507.4v3.1h-15.4v-3.1L1881.1 503.1L1875.7 498.8zM1879.8 490.7h15.4v3.1L1889.8 498.1L1895.2 502.4v3.1h-15.4v-3.1L1885.2 498.1L1879.8 493.8zM1884.2 485.7v16.6h3.1L1891.7 496.3L1896.1 502.3h3.1v-16.6h-3.1L1891.7 491.7L1887.3 485.7zM1888.3 481.7v16.6h3.1L1895.8 492.3L1900.2 498.3h3.1v-16.6h-3.1L1895.8 487.7L1891.4 481.7zM1892.5 478.6v16.6h3.1L1900 489.2L1904.4 495.2h3.1v-16.6h-3.1L1900 484.6L1895.6 478.6zM1896.6 476.3v16.6h3.1L1904.1 486.9L1908.5 492.9h3.1v-16.6h-3.1L1904.1 482.3L1899.7 476.3zM1900.8 474.2v16.6h3.1L1908.3 484.8L1912.7 490.8h3.1v-16.6h-3.1L1908.3 480.2L1903.9 474.2zM1904.9 472.3v16.6h3.1L1912.4 482.9L1916.8 488.9h3.1v-16.6h-3.1L1912.4 478.3L1908 472.3zM1909.1 470.6v16.6h3.1L1916.6 481.2L1921 487.2h3.1v-16.6h-3.1L1916.6 476.6L1912.2 470.6zM1913.2 469v16.6h3.1L1920.7 479.6L1925.1 485.6h3.1v-16.6h-3.1L1920.7 475L1916.3 469zM1917.4 467.4v16.6h3.1L1924.9 478L1929.3 484h3.1v-16.6h-3.1L1924.9 473.4L1920.5 467.4z" fill="#0000ff" stroke="none"/>
<polyline points="388.7,440 392.8,440.1 397,440.5 401.1,441.1 405.3,441.9 409.4,442.9 413.6,445.6 417.7,449.6 421.9,454 426,458.7 430.2,464.2 434.3,470.3 438.5,477 442.6,485 446.8,493.2 450.9,500.3 455.1,506.8 459.2,512.8 463.4,517.7 467.5,521.8 471.7,525.4 475.9,527 480,526.5 484.2,525.2 488.3,523.3 492.5,518.9 496.6,512.6 500.8,505.5 504.9,496.6 509.1,487.7 513.2,478.6 517.4,469.3 521.5,460.2 525.7,450.8 529.8,441.5 534,432.7 538.1,424.5 542.3,416.8 546.4,409.8 550.6,403.7 554.7,398.3 558.9,393.4 563,389 567.2,384.9 571.3,381.1 575.5,377.6 579.7,374.6 583.8,371.8 588,369.3 592.1,367.5 596.3,366.2 600.4,365 604.6,364.1 608.7,363.2 612.9,363.1 617,363.6 621.2,364.7 625.3,367.9 629.5,376 633.6,389 637.8,406 641.9,424 646.1,442.5 650.2,466 654.4,496 658.5,527 662.7,561 666.8,597 671,632 675.1,670 679.3,706 683.5,740 687.6,772 691.8,799 695.9,822 700.1,840 704.2,850 708.4,854 712.5,853 716.7,847 720.8,836 725,821 729.1,801 733.3,778 737.4,753 741.6,726 745.7,700 749.9,674 754,649 758.2,625 762.3,605 766.5,585.1 770.6,565.8 774.8,549 778.9,535.2 783.1,523.2 787.3,512.1 791.4,501.6 795.6,491.6 799.7,482.8 803.9,475.6 808,469.4 812.2,464 816.3,459.4 820.5,455.3 824.6,451.6 828.8,448.7 832.9,446.6 837.1,444.9 841.2,443.4 845.4,442.1 849.5,440.8 853.7,439.7 857.8,439 862,438.5 866.1,438.1 870.3,437.7 874.4,437.4 878.6,437.2 882.7,437.1 886.9,437 891.1,437 895.2,437 899.4,437 903.5,437 907.7,437 911.8,437 916,437 920.1,437.2 924.3,437.4 928.4,437.7 932.6,438 936.7,438.3 940.9,438.5 945,438.7 949.2,438.9 953.3,439.1 957.5,439.3 961.6,439.4 965.8,439.6 969.9,439.8 974.1,440 978.2,440.2 982.4,440.4 986.5,440.6 990.7,440.9 994.9,441.2 999,441.5 1003.2,441.8 1007.3,442.2 1011.5,442.6 1015.6,443 1019.8,443.4 1023.9,443.9 1028.1,444.3 1032.2,444.8 1036.4,445.3 1040.5,445.8 1044.7,446.3 1048.8,446.8 1053,447.3 1057.1,447.9 1061.3,448.6 1065.4,449.3 1069.6,450 1073.7,450.7 1077.9,451.4 1082,452.1 1086.2,452.7 1090.3,453.3 1094.5,453.9 1098.7,454.4 1102.8,454.8 1107,455.2 1111.1,455.5 1115.3,455.8 1119.4,456.1 1123.6,456.4 1127.7,456.7 1131.9,457 1136,457.2 1140.2,457.4 1144.3,457.6 1148.5,457.8 1152.6,457.9 1156.8,458 1160.9,458 1165.1,458 1169.2,458 1173.4,457.9 1177.5,457.8 1181.7,457.7 1185.8,457.6 1190,457.4 1194.1,457.3 1198.3,457.1 1202.5,456.9 1206.6,456.7 1210.8,456.4 1214.9,456.2 1219.1,455.9 1223.2,455.3 1227.4,454.6 1231.5,453.6 1235.7,452.5 1239.8,451.3 1244,450.1 1248.1,448.8 1252.3,447.3 1256.4,445.6 1260.6,443.6 1264.7,441 1268.9,438 1273,434.7 1277.2,431.1 1281.3,426.9 1285.5,422.6 1289.6,418.3 1293.8,413.8 1297.9,409.2 1302.1,404.6 1306.3,400.1 1310.4,395.6 1314.6,390.9 1318.7,386 1322.9,380.8 1327,375.5 1331.2,370.5 1335.3,365.5 1339.5,361 1343.6,357.4 1347.8,354.5 1351.9,354.9 1356.1,360 1360.2,372 1364.4,390.5 1368.5,417 1372.7,454 1376.8,503 1381,552 1385.1,608 1389.3,664 1393.4,721.5 1397.6,793.5 1401.7,888 1405.9,995 1410.1,1079 1414.2,1095 1418.4,1030 1422.5,904 1426.7,758 1430.8,625 1435,524 1439.1,460 1443.3,425 1447.4,408 1451.6,405 1455.7,411 1459.9,421 1464,430.1 1468.2,440 1472.3,450.4 1476.5,459 1480.6,464.3 1484.8,468.5 1488.9,471.9 1493.1,474.5 1497.2,476 1501.4,476.9 1505.5,477.6 1509.7,477.9 1513.9,477.9 1518,477.1 1522.2,475.8 1526.3,473.9 1530.5,471.8 1534.6,469.4 1538.8,467 1542.9,464.8 1547.1,462.7 1551.2,461 1555.4,459.1 1559.5,457.2 1563.7,455.4 1567.8,453.8 1572,452.3 1576.1,451.2 1580.3,450.3 1584.4,449.5 1588.6,448.7 1592.7,448 1596.9,447.5 1601,447.1 1605.2,447 1609.3,447 1613.5,447 1617.7,447 1621.8,447 1626,447 1630.1,447 1634.3,447 1638.4,447.1 1642.6,447.2 1646.7,447.3 1650.9,447.5 1655,447.7 1659.2,447.9 1663.3,448.2 1667.5,448.5 1671.6,448.9 1675.8,449.4 1679.9,449.9 1684.1,450.4 1688.2,450.9 1692.4,451.3 1696.5,451.8 1700.7,452.3 1704.8,452.9 1709,453.3 1713.1,453.7 1717.3,454 1721.5,454.2 1725.6,454.4 1729.8,454.6 1733.9,454.8 1738.1,454.9 1742.2,455 1746.4,455 1750.5,454.9 1754.7,454.6 1758.8,454.3 1763,453.9 1767.1,453.4 1771.3,452.8 1775.4,452.3 1779.6,451.5 1783.7,450.6 1787.9,449.5 1792,448.3 1796.2,447.1 1800.3,445.9 1804.5,444.8 1808.6,443.7 1812.8,442.5 1816.9,441.3 1821.1,440.1 1825.3,438.9 1829.4,437.6 1833.6,436.4 1837.7,435.1 1841.9,433.8 1846,432.5 1850.2,431.2 1854.3,429.8 1858.5,428.4 1862.6,426.8 1866.8,425.2 1870.9,423.6 1875.1,421.9 1879.2,420.1 1883.4,418.3 1887.5,416.4 1891.7,414.5 1895.8,412.4 1900,410.3 1904.1,408.2 1908.3,406.2 1912.4,404.3 1916.6,402.4 1920.7,400.5 1924.9,398.6" fill="none" stroke="#ffa500" stroke-width="4.2" stroke-linejoin="round"/>
<path d="M381.4 432.7h14.6v14.6h-14.6zM385.5 432.8h14.6v14.6h-14.6zM389.7 433.2h14.6v14.6h-14.6zM393.8 433.8h14.6v14.6h-14.6zM398 434.6h14.6v14.6h-14.6zM402.1 435.6h14.6v14.6h-14.6zM406.3 438.3h14.6v14.6h-14.6zM410.4 442.3h14.6v14.6h-14.6zM414.6 446.7h14.6v14.6h-14.6zM418.7 451.4h14.6v14.6h-14.6zM422.9 456.9h14.6v14.6h-14.6zM427 463h14.6v14.6h-14.6zM431.2 469.7h14.6v14.6h-14.6zM435.3 477.7h14.6v14.6h-14.6zM439.5 485.9h14.6v14.6h-14.6zM443.6 493h14.6v14.6h-14.6zM447.8 499.5h14.6v14.6h-14.6zM451.9 505.5h14.6v14.6h-14.6zM456.1 510.4h14.6v14.6h-14.6zM460.2 514.5h14.6v14.6h-14.6zM464.4 518.1h14.6v14.6h-14.6zM468.6 519.7h14.6v14.6h-14.6zM472.7 519.2h14.6v14.6h-14.6zM476.9 517.9h14.6v14.6h-14.6zM481 516h14.6v14.6h-14.6zM485.2 511.6h14.6v14.6h-14.6zM489.3 505.3h14.6v14.6h-14.6zM493.5 498.2h14.6v14.6h-14.6zM497.6 489.3h14.6v14.6h-14.6zM501.8 480.4h14.6v14.6h-14.6zM505.9 471.3h14.6v14.6h-14.6zM510.1 462h14.6v14.6h-14.6zM514.2 452.9h14.6v14.6h-14.6zM518.4 443.5h14.6v14.6h-14.6zM522.5 434.2h14.6v14.6h-14.6zM526.7 425.4h14.6v14.6h-14.6zM530.8 417.2h14.6v14.6h-14.6zM535 409.5h14.6v14.6h-14.6zM539.1 402.5h14.6v14.6h-14.6zM543.3 396.4h14.6v14.6h-14.6zM547.4 391h14.6v14.6h-14.6zM551.6 386.1h14.6v14.6h-14.6zM555.7 381.7h14.6v14.6h-14.6zM559.9 377.6h14.6v14.6h-14.6zM564 373.8h14.6v14.6h-14.6zM568.2 370.3h14.6v14.6h-14.6zM572.4 367.3h14.6v14.6h-14.6zM576.5 364.5h14.6v14.6h-14.6zM580.7 362h14.6v14.6h-14.6zM584.8 360.2h14.6v14.6h-14.6zM589 358.9h14.6v14.6h-14.6zM593.1 357.7h14.6v14.6h-14.6zM597.3 356.8h14.6v14.6h-14.6zM601.4 355.9h14.6v14.6h-14.6zM605.6 355.8h14.6v14.6h-14.6zM609.7 356.3h14.6v14.6h-14.6zM613.9 357.4h14.6v14.6h-14.6zM618 360.6h14.6v14.6h-14.6zM622.2 368.7h14.6v14.6h-14.6zM626.3 381.7h14.6v14.6h-14.6zM630.5 398.7h14.6v14.6h-14.6zM634.6 416.7h14.6v14.6h-14.6zM638.8 435.2h14.6v14.6h-14.6zM642.9 458.7h14.6v14.6h-14.6zM647.1 488.7h14.6v14.6h-14.6zM651.2 519.7h14.6v14.6h-14.6zM655.4 553.7h14.6v14.6h-14.6zM659.5 589.7h14.6v14.6h-14.6zM663.7 624.7h14.6v14.6h-14.6zM667.8 662.7h14.6v14.6h-14.6zM672 698.7h14.6v14.6h-14.6zM676.2 732.7h14.6v14.6h-14.6zM680.3 764.7h14.6v14.6h-14.6zM684.5 791.7h14.6v14.6h-14.6zM688.6 814.7h14.6v14.6h-14.6zM692.8 832.7h14.6v14.6h-14.6zM696.9 842.7h14.6v14.6h-14.6zM701.1 846.7h14.6v14.6h-14.6zM705.2 845.7h14.6v14.6h-14.6zM709.4 839.7h14.6v14.6h-14.6zM713.5 828.7h14.6v14.6h-14.6zM717.7 813.7h14.6v14.6h-14.6zM721.8 793.7h14.6v14.6h-14.6zM726 770.7h14.6v14.6h-14.6zM730.1 745.7h14.6v14.6h-14.6zM734.3 718.7h14.6v14.6h-14.6zM738.4 692.7h14.6v14.6h-14.6zM742.6 666.7h14.6v14.6h-14.6zM746.7 641.7h14.6v14.6h-14.6zM750.9 617.7h14.6v14.6h-14.6zM755 597.7h14.6v14.6h-14.6zM759.2 577.8h14.6v14.6h-14.6zM763.3 558.5h14.6v14.6h-14.6zM767.5 541.7h14.6v14.6h-14.6zM771.6 527.9h14.6v14.6h-14.6zM775.8 515.9h14.6v14.6h-14.6zM780 504.8h14.6v14.6h-14.6zM784.1 494.3h14.6v14.6h-14.6zM788.3 484.3h14.6v14.6h-14.6zM792.4 475.5h14.6v14.6h-14.6zM796.6 468.3h14.6v14.6h-14.6zM800.7 462.1h14.6v14.6h-14.6zM804.9 456.7h14.6v14.6h-14.6zM809 452.1h14.6v14.6h-14.6zM813.2 448h14.6v14.6h-14.6zM817.3 444.3h14.6v14.6h-14.6zM821.5 441.4h14.6v14.6h-14.6zM825.6 439.3h14.6v14.6h-14.6zM829.8 437.6h14.6v14.6h-14.6zM833.9 436.1h14.6v14.6h-14.6zM838.1 434.8h14.6v14.6h-14.6zM842.2 433.5h14.6v14.6h-14.6zM846.4 432.4h14.6v14.6h-14.6zM850.5 431.7h14.6v14.6h-14.6zM854.7 431.2h14.6v14.6h-14.6zM858.8 430.8h14.6v14.6h-14.6zM863 430.4h14.6v14.6h-14.6zM867.1 430.1h14.6v14.6h-14.6zM871.3 429.9h14.6v14.6h-14.6zM875.4 429.8h14.6v14.6h-14.6zM879.6 429.7h14.6v14.6h-14.6zM883.8 429.7h14.6v14.6h-14.6zM887.9 429.7h14.6v14.6h-14.6zM892.1 429.7h14.6v14.6h-14.6zM896.2 429.7h14.6v14.6h-14.6zM900.4 429.7h14.6v14.6h-14.6zM904.5 429.7h14.6v14.6h-14.6zM908.7 429.7h14.6v14.6h-14.6zM912.8 429.9h14.6v14.6h-14.6zM917 430.1h14.6v14.6h-14.6zM921.1 430.4h14.6v14.6h-14.6zM925.3 430.7h14.6v14.6h-14.6zM929.4 431h14.6v14.6h-14.6zM933.6 431.2h14.6v14.6h-14.6zM937.7 431.4h14.6v14.6h-14.6zM941.9 431.6h14.6v14.6h-14.6zM946 431.8h14.6v14.6h-14.6zM950.2 432h14.6v14.6h-14.6zM954.3 432.1h14.6v14.6h-14.6zM958.5 432.3h14.6v14.6h-14.6zM962.6 432.5h14.6v14.6h-14.6zM966.8 432.7h14.6v14.6h-14.6zM970.9 432.9h14.6v14.6h-14.6zM975.1 433.1h14.6v14.6h-14.6zM979.2 433.3h14.6v14.6h-14.6zM983.4 433.6h14.6v14.6h-14.6zM987.6 433.9h14.6v14.6h-14.6zM991.7 434.2h14.6v14.6h-14.6zM995.9 434.5h14.6v14.6h-14.6zM1000 434.9h14.6v14.6h-14.6zM1004.2 435.3h14.6v14.6h-14.6zM1008.3 435.7h14.6v14.6h-14.6zM1012.5 436.1h14.6v14.6h-14.6zM1016.6 436.6h14.6v14.6h-14.6zM1020.8 437h14.6v14.6h-14.6zM1024.9 437.5h14.6v14.6h-14.6zM1029.1 438h14.6v14.6h-14.6zM1033.2 438.5h14.6v14.6h-14.6zM1037.4 439h14.6v14.6h-14.6zM1041.5 439.5h14.6v14.6h-14.6zM1045.7 440h14.6v14.6h-14.6zM1049.8 440.6h14.6v14.6h-14.6zM1054 441.3h14.6v14.6h-14.6zM1058.1 442h14.6v14.6h-14.6zM1062.3 442.7h14.6v14.6h-14.6zM1066.4 443.4h14.6v14.6h-14.6zM1070.6 444.1h14.6v14.6h-14.6zM1074.7 444.8h14.6v14.6h-14.6zM1078.9 445.4h14.6v14.6h-14.6zM1083 446h14.6v14.6h-14.6zM1087.2 446.6h14.6v14.6h-14.6zM1091.4 447.1h14.6v14.6h-14.6zM1095.5 447.5h14.6v14.6h-14.6zM1099.7 447.9h14.6v14.6h-14.6zM1103.8 448.2h14.6v14.6h-14.6zM1108 448.5h14.6v14.6h-14.6zM1112.1 448.8h14.6v14.6h-14.6zM1116.3 449.1h14.6v14.6h-14.6zM1120.4 449.4h14.6v14.6h-14.6zM1124.6 449.7h14.6v14.6h-14.6zM1128.7 449.9h14.6v14.6h-14.6zM1132.9 450.1h14.6v14.6h-14.6zM1137 450.3h14.6v14.6h-14.6zM1141.2 450.5h14.6v14.6h-14.6zM1145.3 450.6h14.6v14.6h-14.6zM1149.5 450.7h14.6v14.6h-14.6zM1153.6 450.7h14.6v14.6h-14.6zM1157.8 450.7h14.6v14.6h-14.6zM1161.9 450.7h14.6v14.6h-14.6zM1166.1 450.6h14.6v14.6h-14.6zM1170.2 450.5h14.6v14.6h-14.6zM1174.4 450.4h14.6v14.6h-14.6zM1178.5 450.3h14.6v14.6h-14.6zM1182.7 450.1h14.6v14.6h-14.6zM1186.8 450h14.6v14.6h-14.6zM1191 449.8h14.6v14.6h-14.6zM1195.2 449.6h14.6v14.6h-14.6zM1199.3 449.4h14.6v14.6h-14.6zM1203.5 449.1h14.6v14.6h-14.6zM1207.6 448.9h14.6v14.6h-14.6zM1211.8 448.6h14.6v14.6h-14.6zM1215.9 448h14.6v14.6h-14.6zM1220.1 447.3h14.6v14.6h-14.6zM1224.2 446.3h14.6v14.6h-14.6zM1228.4 445.2h14.6v14.6h-14.6zM1232.5 444h14.6v14.6h-14.6zM1236.7 442.8h14.6v14.6h-14.6zM1240.8 441.5h14.6v14.6h-14.6zM1245 440h14.6v14.6h-14.6zM1249.1 438.3h14.6v14.6h-14.6zM1253.3 436.3h14.6v14.6h-14.6zM1257.4 433.7h14.6v14.6h-14.6zM1261.6 430.7h14.6v14.6h-14.6zM1265.7 427.4h14.6v14.6h-14.6zM1269.9 423.8h14.6v14.6h-14.6zM1274 419.6h14.6v14.6h-14.6zM1278.2 415.3h14.6v14.6h-14.6zM1282.3 411h14.6v14.6h-14.6zM1286.5 406.5h14.6v14.6h-14.6zM1290.6 401.9h14.6v14.6h-14.6zM1294.8 397.3h14.6v14.6h-14.6zM1299 392.8h14.6v14.6h-14.6zM1303.1 388.3h14.6v14.6h-14.6zM1307.3 383.6h14.6v14.6h-14.6zM1311.4 378.7h14.6v14.6h-14.6zM1315.6 373.5h14.6v14.6h-14.6zM1319.7 368.2h14.6v14.6h-14.6zM1323.9 363.2h14.6v14.6h-14.6zM1328 358.2h14.6v14.6h-14.6zM1332.2 353.7h14.6v14.6h-14.6zM1336.3 350.1h14.6v14.6h-14.6zM1340.5 347.2h14.6v14.6h-14.6zM1344.6 347.6h14.6v14.6h-14.6zM1348.8 352.7h14.6v14.6h-14.6zM1352.9 364.7h14.6v14.6h-14.6zM1357.1 383.2h14.6v14.6h-14.6zM1361.2 409.7h14.6v14.6h-14.6zM1365.4 446.7h14.6v14.6h-14.6zM1369.5 495.7h14.6v14.6h-14.6zM1373.7 544.7h14.6v14.6h-14.6zM1377.8 600.7h14.6v14.6h-14.6zM1382 656.7h14.6v14.6h-14.6zM1386.1 714.2h14.6v14.6h-14.6zM1390.3 786.2h14.6v14.6h-14.6zM1394.4 880.7h14.6v14.6h-14.6zM1398.6 987.7h14.6v14.6h-14.6zM1402.8 1071.7h14.6v14.6h-14.6zM1406.9 1087.7h14.6v14.6h-14.6zM1411.1 1022.7h14.6v14.6h-14.6zM1415.2 896.7h14.6v14.6h-14.6zM1419.4 750.7h14.6v14.6h-14.6zM1423.5 617.7h14.6v14.6h-14.6zM1427.7 516.7h14.6v14.6h-14.6zM1431.8 452.7h14.6v14.6h-14.6zM1436 417.7h14.6v14.6h-14.6zM1440.1 400.7h14.6v14.6h-14.6zM1444.3 397.7h14.6v14.6h-14.6zM1448.4 403.7h14.6v14.6h-14.6zM1452.6 413.7h14.6v14.6h-14.6zM1456.7 422.8h14.6v14.6h-14.6zM1460.9 432.7h14.6v14.6h-14.6zM1465 443.1h14.6v14.6h-14.6zM1469.2 451.7h14.6v14.6h-14.6zM1473.3 457h14.6v14.6h-14.6zM1477.5 461.2h14.6v14.6h-14.6zM1481.6 464.6h14.6v14.6h-14.6zM1485.8 467.2h14.6v14.6h-14.6zM1489.9 468.7h14.6v14.6h-14.6zM1494.1 469.6h14.6v14.6h-14.6zM1498.2 470.3h14.6v14.6h-14.6zM1502.4 470.6h14.6v14.6h-14.6zM1506.6 470.6h14.6v14.6h-14.6zM1510.7 469.8h14.6v14.6h-14.6zM1514.9 468.5h14.6v14.6h-14.6zM1519 466.6h14.6v14.6h-14.6zM1523.2 464.5h14.6v14.6h-14.6zM1527.3 462.1h14.6v14.6h-14.6zM1531.5 459.7h14.6v14.6h-14.6zM1535.6 457.5h14.6v14.6h-14.6zM1539.8 455.4h14.6v14.6h-14.6zM1543.9 453.7h14.6v14.6h-14.6zM1548.1 451.8h14.6v14.6h-14.6zM1552.2 449.9h14.6v14.6h-14.6zM1556.4 448.1h14.6v14.6h-14.6zM1560.5 446.5h14.6v14.6h-14.6zM1564.7 445h14.6v14.6h-14.6zM1568.8 443.9h14.6v14.6h-14.6zM1573 443h14.6v14.6h-14.6zM1577.1 442.2h14.6v14.6h-14.6zM1581.3 441.4h14.6v14.6h-14.6zM1585.4 440.7h14.6v14.6h-14.6zM1589.6 440.2h14.6v14.6h-14.6zM1593.7 439.8h14.6v14.6h-14.6zM1597.9 439.7h14.6v14.6h-14.6zM1602 439.7h14.6v14.6h-14.6zM1606.2 439.7h14.6v14.6h-14.6zM1610.4 439.7h14.6v14.6h-14.6zM1614.5 439.7h14.6v14.6h-14.6zM1618.7 439.7h14.6v14.6h-14.6zM1622.8 439.7h14.6v14.6h-14.6zM1627 439.7h14.6v14.6h-14.6zM1631.1 439.8h14.6v14.6h-14.6zM1635.3 439.9h14.6v14.6h-14.6zM1639.4 440h14.6v14.6h-14.6zM1643.6 440.2h14.6v14.6h-14.6zM1647.7 440.4h14.6v14.6h-14.6zM1651.9 440.6h14.6v14.6h-14.6zM1656 440.9h14.6v14.6h-14.6zM1660.2 441.2h14.6v14.6h-14.6zM1664.3 441.6h14.6v14.6h-14.6zM1668.5 442.1h14.6v14.6h-14.6zM1672.6 442.6h14.6v14.6h-14.6zM1676.8 443.1h14.6v14.6h-14.6zM1680.9 443.6h14.6v14.6h-14.6zM1685.1 444h14.6v14.6h-14.6zM1689.2 444.5h14.6v14.6h-14.6zM1693.4 445h14.6v14.6h-14.6zM1697.5 445.6h14.6v14.6h-14.6zM1701.7 446h14.6v14.6h-14.6zM1705.8 446.4h14.6v14.6h-14.6zM1710 446.7h14.6v14.6h-14.6zM1714.2 446.9h14.6v14.6h-14.6zM1718.3 447.1h14.6v14.6h-14.6zM1722.5 447.3h14.6v14.6h-14.6zM1726.6 447.5h14.6v14.6h-14.6zM1730.8 447.6h14.6v14.6h-14.6zM1734.9 447.7h14.6v14.6h-14.6zM1739.1 447.7h14.6v14.6h-14.6zM1743.2 447.6h14.6v14.6h-14.6zM1747.4 447.3h14.6v14.6h-14.6zM1751.5 447h14.6v14.6h-14.6zM1755.7 446.6h14.6v14.6h-14.6zM1759.8 446.1h14.6v14.6h-14.6zM1764 445.5h14.6v14.6h-14.6zM1768.1 445h14.6v14.6h-14.6zM1772.3 444.2h14.6v14.6h-14.6zM1776.4 443.3h14.6v14.6h-14.6zM1780.6 442.2h14.6v14.6h-14.6zM1784.7 441h14.6v14.6h-14.6zM1788.9 439.8h14.6v14.6h-14.6zM1793 438.6h14.6v14.6h-14.6zM1797.2 437.5h14.6v14.6h-14.6zM1801.3 436.4h14.6v14.6h-14.6zM1805.5 435.2h14.6v14.6h-14.6zM1809.6 434h14.6v14.6h-14.6zM1813.8 432.8h14.6v14.6h-14.6zM1818 431.6h14.6v14.6h-14.6zM1822.1 430.3h14.6v14.6h-14.6zM1826.3 429.1h14.6v14.6h-14.6zM1830.4 427.8h14.6v14.6h-14.6zM1834.6 426.5h14.6v14.6h-14.6zM1838.7 425.2h14.6v14.6h-14.6zM1842.9 423.9h14.6v14.6h-14.6zM1847 422.5h14.6v14.6h-14.6zM1851.2 421.1h14.6v14.6h-14.6zM1855.3 419.5h14.6v14.6h-14.6zM1859.5 417.9h14.6v14.6h-14.6zM1863.6 416.3h14.6v14.6h-14.6zM1867.8 414.6h14.6v14.6h-14.6zM1871.9 412.8h14.6v14.6h-14.6zM1876.1 411h14.6v14.6h-14.6zM1880.2 409.1h14.6v14.6h-14.6zM1884.4 407.2h14.6v14.6h-14.6zM1888.5 405.1h14.6v14.6h-14.6zM1892.7 403h14.6v14.6h-14.6zM1896.8 400.9h14.6v14.6h-14.6zM1901 398.9h14.6v14.6h-14.6zM1905.1 397h14.6v14.6h-14.6zM1909.3 395.1h14.6v14.6h-14.6zM1913.4 393.2h14.6v14.6h-14.6zM1917.6 391.3h14.6v14.6h-14.6z" fill="#ffa500" fill-opacity="0.45" stroke="#ffa500" stroke-width="4.4"/>
<polyline points="388.7,295 392.8,298.2 397,302 401.1,306.5 405.3,312 409.4,318.8 413.6,327 417.7,336.1 421.9,348 426,368 430.2,401 434.3,453 438.5,529 442.6,633 446.8,758 450.9,889 455.1,1004 459.2,1084 463.4,1114 467.5,1090 471.7,1024 475.9,931 480,828 484.2,728 488.3,637 492.5,566 496.6,506 500.8,461 504.9,425 509.1,397 513.2,376 517.4,352.5 521.5,342 525.7,333.5 529.8,326 534,319 538.1,313 542.3,308.5 546.4,305 550.6,302.5 554.7,300.5 558.9,298.2 563,296 567.2,294.4 571.3,293 575.5,291.7 579.7,290.6 583.8,289.7 588,288.9 592.1,288.3 596.3,287.7 600.4,287.3 604.6,287 608.7,286.7 612.9,286.5 617,286.4 621.2,286.3 625.3,286.4 629.5,286.5 633.6,286.7 637.8,287 641.9,287.5 646.1,288.3 650.2,289.3 654.4,290.7 658.5,292.5 662.7,294.9 666.8,298 671,302 675.1,307 679.3,313 683.5,320.5 687.6,329 691.8,339.5 695.9,354.5 700.1,374.5 704.2,405.4 708.4,452.4 712.5,519.9 716.7,611.3 720.8,721.5 725,840 729.1,950 733.3,1031 737.4,1069 741.6,1061 745.7,1011 749.9,933 754,840 758.2,746 762.3,660.5 766.5,586 770.6,524 774.8,475 778.9,435.5 783.1,406 787.3,382 791.4,352.5 795.6,342 799.7,333.5 803.9,326 808,319 812.2,313 816.3,308.5 820.5,305 824.6,302.5 828.8,300.5 832.9,298.2 837.1,296 841.2,294.4 845.4,293 849.5,291.7 853.7,290.6 857.8,289.7 862,288.9 866.1,288.3 870.3,287.7 874.4,287.3 878.6,287 882.7,286.7 886.9,286.5 891.1,286.4 895.2,286.3 899.4,286.4 903.5,286.7 907.7,287.1 911.8,287.7 916,288.6 920.1,289.6 924.3,291.2 928.4,293.1 932.6,295.8 936.7,299.1 940.9,303.4 945,308.7 949.2,315.1 953.3,322.9 957.5,331.9 961.6,343.4 965.8,360.4 969.9,386 974.1,426 978.2,485 982.4,568 986.5,677 990.7,804 994.9,928 999,1025.5 1003.2,1077 1007.3,1078 1011.5,1036 1015.6,963 1019.8,871 1023.9,777 1028.1,687 1032.2,608 1036.4,542 1040.5,489 1044.7,447 1048.8,413 1053,388 1057.1,358.6 1061.3,344.7 1065.4,335.9 1069.6,328.2 1073.7,321 1077.9,314.6 1082,309.7 1086.2,305.9 1090.3,303.2 1094.5,301.1 1098.7,298.9 1102.8,296.6 1107,294.8 1111.1,293.4 1115.3,292.1 1119.4,290.9 1123.6,289.9 1127.7,289.2 1131.9,288.5 1136,287.9 1140.2,287.4 1144.3,287.1 1148.5,286.8 1152.6,286.6 1156.8,286.4 1160.9,286.3 1165.1,286.4 1169.2,286.6 1173.4,286.9 1177.5,287.3 1181.7,288 1185.8,289 1190,290.2 1194.1,291.9 1198.3,294.1 1202.5,297 1206.6,300.7 1210.8,305.4 1214.9,311.1 1219.1,318.1 1223.2,326.3 1227.4,336 1231.5,349.6 1235.7,367 1239.8,394 1244,437 1248.1,499 1252.3,586 1256.4,693 1260.6,813 1264.7,928 1268.9,1017 1273,1067 1277.2,1068 1281.3,1025.5 1285.5,951 1289.6,859 1293.8,763 1297.9,674 1302.1,598 1306.3,531 1310.4,479 1314.6,438 1318.7,406 1322.9,382 1327,354.2 1331.2,342.9 1335.3,334.3 1339.5,326.7 1343.6,319.7 1347.8,313.5 1351.9,308.9 1356.1,305.3 1360.2,302.7 1364.4,300.7 1368.5,298.4 1372.7,296.2 1376.8,294.5 1381,293.1 1385.1,291.9 1389.3,290.7 1393.4,289.8 1397.6,289 1401.7,288.3 1405.9,287.7 1410.1,287.3 1414.2,287 1418.4,286.8 1422.5,286.5 1426.7,286.4 1430.8,286.3 1435,286.4 1439.1,286.7 1443.3,287.1 1447.4,287.7 1451.6,288.6 1455.7,289.6 1459.9,291.2 1464,293.1 1468.2,295.8 1472.3,299.1 1476.5,303.4 1480.6,308.7 1484.8,315.1 1488.9,322.9 1493.1,331.9 1497.2,343.5 1501.4,359.9 1505.5,382 1509.7,418 1513.9,473 1518,551 1522.2,653 1526.3,776 1530.5,901 1534.6,1003 1538.8,1068 1542.9,1077 1547.1,1040 1551.2,967 1555.4,878 1559.5,784 1563.7,696 1567.8,617 1572,551 1576.1,495 1580.3,450 1584.4,418 1588.6,392 1592.7,356.8 1596.9,343.8 1601,335.1 1605.2,327.5 1609.3,320.3 1613.5,314.1 1617.7,309.3 1621.8,305.6 1626,303 1630.1,300.9 1634.3,298.7 1638.4,296.4 1642.6,294.7 1646.7,293.3 1650.9,292 1655,290.8 1659.2,289.9 1663.3,289.1 1667.5,288.4 1671.6,287.8 1675.8,287.4 1679.9,287.1 1684.1,286.8 1688.2,286.5 1692.4,286.4 1696.5,286.3 1700.7,286.4 1704.8,286.5 1709,286.8 1713.1,287.2 1717.3,287.9 1721.5,288.8 1725.6,289.9 1729.8,291.5 1733.9,293.6 1738.1,296.4 1742.2,299.9 1746.4,304.4 1750.5,309.8 1754.7,316.6 1758.8,324.6 1763,333.9 1767.1,346.7 1771.3,362 1775.4,388 1779.6,427 1783.7,485 1787.9,566 1792,670 1796.2,787 1800.3,904 1804.5,998 1808.6,1056.5 1812.8,1068.6 1816.9,1035 1821.1,967 1825.3,878 1829.4,783 1833.6,691 1837.7,611 1841.9,544 1846,489 1850.2,447 1854.3,412 1858.5,386 1862.6,366 1866.8,351 1870.9,338 1875.1,327.5 1879.2,319 1883.4,312.5 1887.5,307.5 1891.7,303.5 1895.8,300.5 1900,298.1 1904.1,295.9 1908.3,294 1912.4,292.4 1916.6,291 1920.7,289.9 1924.9,289" fill="none" stroke="#009620" stroke-width="4.2" stroke-linejoin="round"/>
<path d="M382.6 295a6.1 6.1 0 1 0 12.2 0a6.1 6.1 0 1 0 -12.2 0M386.7 298.2a6.1 6.1 0 1 0 12.2 0a6.1 6.1 0 1 0 -12.2 0M390.9 302a6.1 6.1 0 1 0 12.2 0a6.1 6.1 0 1 0 -12.2 0M395 306.5a6.1 6.1 0 1 0 12.2 0a6.1 6.1 0 1 0 -12.2 0M399.2 312a6.1 6.1 0 1 0 12.2 0a6.1 6.1 0 1 0 -12.2 0M403.3 318.8a6.1 6.1 0 1 0 12.2 0a6.1 6.1 0 1 0 -12.2 0M407.5 327a6.1 6.1 0 1 0 12.2 0a6.1 6.1 0 1 0 -12.2 0M411.6 336.1a6.1 6.1 0 1 0 12.2 0a6.1 6.1 0 1 0 -12.2 0M415.8 348a6.1 6.1 0 1 0 12.2 0a6.1 6.1 0 1 0 -12.2 0M419.9 368a6.1 6.1 0 1 0 12.2 0a6.1 6.1 0 1 0 -12.2 0M424.1 401a6.1 6.1 0 1 0 12.2 0a6.1 6.1 0 1 0 -12.2 0M428.2 453a6.1 6.1 0 1 0 12.2 0a6.1 6.1 0 1 0 -12.2 0M432.4 529a6.1 6.1 0 1 0 12.2 0a6.1 6.1 0 1 0 -12.2 0M436.5 633a6.1 6.1 0 1 0 12.2 0a6.1 6.1 0 1 0 -12.2 0M440.7 758a6.1 6.1 0 1 0 12.2 0a6.1 6.1 0 1 0 -12.2 0M444.8 889a6.1 6.1 0 1 0 12.2 0a6.1 6.1 0 1 0 -12.2 0M449 1004a6.1 6.1 0 1 0 12.2 0a6.1 6.1 0 1 0 -12.2 0M453.1 1084a6.1 6.1 0 1 0 12.2 0a6.1 6.1 0 1 0 -12.2 0M457.3 1114a6.1 6.1 0 1 0 12.2 0a6.1 6.1 0 1 0 -12.2 0M461.4 1090a6.1 6.1 0 1 0 12.2 0a6.1 6.1 0 1 0 -12.2 0M465.6 1024a6.1 6.1 0 1 0 12.2 0a6.1 6.1 0 1 0 -12.2 0M469.8 931a6.1 6.1 0 1 0 12.2 0a6.1 6.1 0 1 0 -12.2 0M473.9 828a6.1 6.1 0 1 0 12.2 0a6.1 6.1 0 1 0 -12.2 0M478.1 728a6.1 6.1 0 1 0 12.2 0a6.1 6.1 0 1 0 -12.2 0M482.2 637a6.1 6.1 0 1 0 12.2 0a6.1 6.1 0 1 0 -12.2 0M486.4 566a6.1 6.1 0 1 0 12.2 0a6.1 6.1 0 1 0 -12.2 0M490.5 506a6.1 6.1 0 1 0 12.2 0a6.1 6.1 0 1 0 -12.2 0M494.7 461a6.1 6.1 0 1 0 12.2 0a6.1 6.1 0 1 0 -12.2 0M498.8 425a6.1 6.1 0 1 0 12.2 0a6.1 6.1 0 1 0 -12.2 0M503 397a6.1 6.1 0 1 0 12.2 0a6.1 6.1 0 1 0 -12.2 0M507.1 376a6.1 6.1 0 1 0 12.2 0a6.1 6.1 0 1 0 -12.2 0M511.3 352.5a6.1 6.1 0 1 0 12.2 0a6.1 6.1 0 1 0 -12.2 0M515.4 342a6.1 6.1 0 1 0 12.2 0a6.1 6.1 0 1 0 -12.2 0M519.6 333.5a6.1 6.1 0 1 0 12.2 0a6.1 6.1 0 1 0 -12.2 0M523.7 326a6.1 6.1 0 1 0 12.2 0a6.1 6.1 0 1 0 -12.2 0M527.9 319a6.1 6.1 0 1 0 12.2 0a6.1 6.1 0 1 0 -12.2 0M532 313a6.1 6.1 0 1 0 12.2 0a6.1 6.1 0 1 0 -12.2 0M536.2 308.5a6.1 6.1 0 1 0 12.2 0a6.1 6.1 0 1 0 -12.2 0M540.3 305a6.1 6.1 0 1 0 12.2 0a6.1 6.1 0 1 0 -12.2 0M544.5 302.5a6.1 6.1 0 1 0 12.2 0a6.1 6.1 0 1 0 -12.2 0M548.6 300.5a6.1 6.1 0 1 0 12.2 0a6.1 6.1 0 1 0 -12.2 0M552.8 298.2a6.1 6.1 0 1 0 12.2 0a6.1 6.1 0 1 0 -12.2 0M556.9 296a6.1 6.1 0 1 0 12.2 0a6.1 6.1 0 1 0 -12.2 0M561.1 294.4a6.1 6.1 0 1 0 12.2 0a6.1 6.1 0 1 0 -12.2 0M565.2 293a6.1 6.1 0 1 0 12.2 0a6.1 6.1 0 1 0 -12.2 0M569.4 291.7a6.1 6.1 0 1 0 12.2 0a6.1 6.1 0 1 0 -12.2 0M573.6 290.6a6.1 6.1 0 1 0 12.2 0a6.1 6.1 0 1 0 -12.2 0M577.7 289.7a6.1 6.1 0 1 0 12.2 0a6.1 6.1 0 1 0 -12.2 0M581.9 288.9a6.1 6.1 0 1 0 12.2 0a6.1 6.1 0 1 0 -12.2 0M586 288.3a6.1 6.1 0 1 0 12.2 0a6.1 6.1 0 1 0 -12.2 0M590.2 287.7a6.1 6.1 0 1 0 12.2 0a6.1 6.1 0 1 0 -12.2 0M594.3 287.3a6.1 6.1 0 1 0 12.2 0a6.1 6.1 0 1 0 -12.2 0M598.5 287a6.1 6.1 0 1 0 12.2 0a6.1 6.1 0 1 0 -12.2 0M602.6 286.7a6.1 6.1 0 1 0 12.2 0a6.1 6.1 0 1 0 -12.2 0M606.8 286.5a6.1 6.1 0 1 0 12.2 0a6.1 6.1 0 1 0 -12.2 0M610.9 286.4a6.1 6.1 0 1 0 12.2 0a6.1 6.1 0 1 0 -12.2 0M615.1 286.3a6.1 6.1 0 1 0 12.2 0a6.1 6.1 0 1 0 -12.2 0M619.2 286.4a6.1 6.1 0 1 0 12.2 0a6.1 6.1 0 1 0 -12.2 0M623.4 286.5a6.1 6.1 0 1 0 12.2 0a6.1 6.1 0 1 0 -12.2 0M627.5 286.7a6.1 6.1 0 1 0 12.2 0a6.1 6.1 0 1 0 -12.2 0M631.7 287a6.1 6.1 0 1 0 12.2 0a6.1 6.1 0 1 0 -12.2 0M635.8 287.5a6.1 6.1 0 1 0 12.2 0a6.1 6.1 0 1 0 -12.2 0M640 288.3a6.1 6.1 0 1 0 12.2 0a6.1 6.1 0 1 0 -12.2 0M644.1 289.3a6.1 6.1 0 1 0 12.2 0a6.1 6.1 0 1 0 -12.2 0M648.3 290.7a6.1 6.1 0 1 0 12.2 0a6.1 6.1 0 1 0 -12.2 0M652.4 292.5a6.1 6.1 0 1 0 12.2 0a6.1 6.1 0 1 0 -12.2 0M656.6 294.9a6.1 6.1 0 1 0 12.2 0a6.1 6.1 0 1 0 -12.2 0M660.7 298a6.1 6.1 0 1 0 12.2 0a6.1 6.1 0 1 0 -12.2 0M664.9 302a6.1 6.1 0 1 0 12.2 0a6.1 6.1 0 1 0 -12.2 0M669 307a6.1 6.1 0 1 0 12.2 0a6.1 6.1 0 1 0 -12.2 0M673.2 313a6.1 6.1 0 1 0 12.2 0a6.1 6.1 0 1 0 -12.2 0M677.4 320.5a6.1 6.1 0 1 0 12.2 0a6.1 6.1 0 1 0 -12.2 0M681.5 329a6.1 6.1 0 1 0 12.2 0a6.1 6.1 0 1 0 -12.2 0M685.7 339.5a6.1 6.1 0 1 0 12.2 0a6.1 6.1 0 1 0 -12.2 0M689.8 354.5a6.1 6.1 0 1 0 12.2 0a6.1 6.1 0 1 0 -12.2 0M694 374.5a6.1 6.1 0 1 0 12.2 0a6.1 6.1 0 1 0 -12.2 0M698.1 405.4a6.1 6.1 0 1 0 12.2 0a6.1 6.1 0 1 0 -12.2 0M702.3 452.4a6.1 6.1 0 1 0 12.2 0a6.1 6.1 0 1 0 -12.2 0M706.4 519.9a6.1 6.1 0 1 0 12.2 0a6.1 6.1 0 1 0 -12.2 0M710.6 611.3a6.1 6.1 0 1 0 12.2 0a6.1 6.1 0 1 0 -12.2 0M714.7 721.5a6.1 6.1 0 1 0 12.2 0a6.1 6.1 0 1 0 -12.2 0M718.9 840a6.1 6.1 0 1 0 12.2 0a6.1 6.1 0 1 0 -12.2 0M723 950a6.1 6.1 0 1 0 12.2 0a6.1 6.1 0 1 0 -12.2 0M727.2 1031a6.1 6.1 0 1 0 12.2 0a6.1 6.1 0 1 0 -12.2 0M731.3 1069a6.1 6.1 0 1 0 12.2 0a6.1 6.1 0 1 0 -12.2 0M735.5 1061a6.1 6.1 0 1 0 12.2 0a6.1 6.1 0 1 0 -12.2 0M739.6 1011a6.1 6.1 0 1 0 12.2 0a6.1 6.1 0 1 0 -12.2 0M743.8 933a6.1 6.1 0 1 0 12.2 0a6.1 6.1 0 1 0 -12.2 0M747.9 840a6.1 6.1 0 1 0 12.2 0a6.1 6.1 0 1 0 -12.2 0M752.1 746a6.1 6.1 0 1 0 12.2 0a6.1 6.1 0 1 0 -12.2 0M756.2 660.5a6.1 6.1 0 1 0 12.2 0a6.1 6.1 0 1 0 -12.2 0M760.4 586a6.1 6.1 0 1 0 12.2 0a6.1 6.1 0 1 0 -12.2 0M764.5 524a6.1 6.1 0 1 0 12.2 0a6.1 6.1 0 1 0 -12.2 0M768.7 475a6.1 6.1 0 1 0 12.2 0a6.1 6.1 0 1 0 -12.2 0M772.8 435.5a6.1 6.1 0 1 0 12.2 0a6.1 6.1 0 1 0 -12.2 0M777 406a6.1 6.1 0 1 0 12.2 0a6.1 6.1 0 1 0 -12.2 0M781.2 382a6.1 6.1 0 1 0 12.2 0a6.1 6.1 0 1 0 -12.2 0M785.3 352.5a6.1 6.1 0 1 0 12.2 0a6.1 6.1 0 1 0 -12.2 0M789.5 342a6.1 6.1 0 1 0 12.2 0a6.1 6.1 0 1 0 -12.2 0M793.6 333.5a6.1 6.1 0 1 0 12.2 0a6.1 6.1 0 1 0 -12.2 0M797.8 326a6.1 6.1 0 1 0 12.2 0a6.1 6.1 0 1 0 -12.2 0M801.9 319a6.1 6.1 0 1 0 12.2 0a6.1 6.1 0 1 0 -12.2 0M806.1 313a6.1 6.1 0 1 0 12.2 0a6.1 6.1 0 1 0 -12.2 0M810.2 308.5a6.1 6.1 0 1 0 12.2 0a6.1 6.1 0 1 0 -12.2 0M814.4 305a6.1 6.1 0 1 0 12.2 0a6.1 6.1 0 1 0 -12.2 0M818.5 302.5a6.1 6.1 0 1 0 12.2 0a6.1 6.1 0 1 0 -12.2 0M822.7 300.5a6.1 6.1 0 1 0 12.2 0a6.1 6.1 0 1 0 -12.2 0M826.8 298.2a6.1 6.1 0 1 0 12.2 0a6.1 6.1 0 1 0 -12.2 0M831 296a6.1 6.1 0 1 0 12.2 0a6.1 6.1 0 1 0 -12.2 0M835.1 294.4a6.1 6.1 0 1 0 12.2 0a6.1 6.1 0 1 0 -12.2 0M839.3 293a6.1 6.1 0 1 0 12.2 0a6.1 6.1 0 1 0 -12.2 0M843.4 291.7a6.1 6.1 0 1 0 12.2 0a6.1 6.1 0 1 0 -12.2 0M847.6 290.6a6.1 6.1 0 1 0 12.2 0a6.1 6.1 0 1 0 -12.2 0M851.7 289.7a6.1 6.1 0 1 0 12.2 0a6.1 6.1 0 1 0 -12.2 0M855.9 288.9a6.1 6.1 0 1 0 12.2 0a6.1 6.1 0 1 0 -12.2 0M860 288.3a6.1 6.1 0 1 0 12.2 0a6.1 6.1 0 1 0 -12.2 0M864.2 287.7a6.1 6.1 0 1 0 12.2 0a6.1 6.1 0 1 0 -12.2 0M868.3 287.3a6.1 6.1 0 1 0 12.2 0a6.1 6.1 0 1 0 -12.2 0M872.5 287a6.1 6.1 0 1 0 12.2 0a6.1 6.1 0 1 0 -12.2 0M876.6 286.7a6.1 6.1 0 1 0 12.2 0a6.1 6.1 0 1 0 -12.2 0M880.8 286.5a6.1 6.1 0 1 0 12.2 0a6.1 6.1 0 1 0 -12.2 0M885 286.4a6.1 6.1 0 1 0 12.2 0a6.1 6.1 0 1 0 -12.2 0M889.1 286.3a6.1 6.1 0 1 0 12.2 0a6.1 6.1 0 1 0 -12.2 0M893.3 286.4a6.1 6.1 0 1 0 12.2 0a6.1 6.1 0 1 0 -12.2 0M897.4 286.7a6.1 6.1 0 1 0 12.2 0a6.1 6.1 0 1 0 -12.2 0M901.6 287.1a6.1 6.1 0 1 0 12.2 0a6.1 6.1 0 1 0 -12.2 0M905.7 287.7a6.1 6.1 0 1 0 12.2 0a6.1 6.1 0 1 0 -12.2 0M909.9 288.6a6.1 6.1 0 1 0 12.2 0a6.1 6.1 0 1 0 -12.2 0M914 289.6a6.1 6.1 0 1 0 12.2 0a6.1 6.1 0 1 0 -12.2 0M918.2 291.2a6.1 6.1 0 1 0 12.2 0a6.1 6.1 0 1 0 -12.2 0M922.3 293.1a6.1 6.1 0 1 0 12.2 0a6.1 6.1 0 1 0 -12.2 0M926.5 295.8a6.1 6.1 0 1 0 12.2 0a6.1 6.1 0 1 0 -12.2 0M930.6 299.1a6.1 6.1 0 1 0 12.2 0a6.1 6.1 0 1 0 -12.2 0M934.8 303.4a6.1 6.1 0 1 0 12.2 0a6.1 6.1 0 1 0 -12.2 0M938.9 308.7a6.1 6.1 0 1 0 12.2 0a6.1 6.1 0 1 0 -12.2 0M943.1 315.1a6.1 6.1 0 1 0 12.2 0a6.1 6.1 0 1 0 -12.2 0M947.2 322.9a6.1 6.1 0 1 0 12.2 0a6.1 6.1 0 1 0 -12.2 0M951.4 331.9a6.1 6.1 0 1 0 12.2 0a6.1 6.1 0 1 0 -12.2 0M955.5 343.4a6.1 6.1 0 1 0 12.2 0a6.1 6.1 0 1 0 -12.2 0M959.7 360.4a6.1 6.1 0 1 0 12.2 0a6.1 6.1 0 1 0 -12.2 0M963.8 386a6.1 6.1 0 1 0 12.2 0a6.1 6.1 0 1 0 -12.2 0M968 426a6.1 6.1 0 1 0 12.2 0a6.1 6.1 0 1 0 -12.2 0M972.1 485a6.1 6.1 0 1 0 12.2 0a6.1 6.1 0 1 0 -12.2 0M976.3 568a6.1 6.1 0 1 0 12.2 0a6.1 6.1 0 1 0 -12.2 0M980.4 677a6.1 6.1 0 1 0 12.2 0a6.1 6.1 0 1 0 -12.2 0M984.6 804a6.1 6.1 0 1 0 12.2 0a6.1 6.1 0 1 0 -12.2 0M988.8 928a6.1 6.1 0 1 0 12.2 0a6.1 6.1 0 1 0 -12.2 0M992.9 1025.5a6.1 6.1 0 1 0 12.2 0a6.1 6.1 0 1 0 -12.2 0M997.1 1077a6.1 6.1 0 1 0 12.2 0a6.1 6.1 0 1 0 -12.2 0M1001.2 1078a6.1 6.1 0 1 0 12.2 0a6.1 6.1 0 1 0 -12.2 0M1005.4 1036a6.1 6.1 0 1 0 12.2 0a6.1 6.1 0 1 0 -12.2 0M1009.5 963a6.1 6.1 0 1 0 12.2 0a6.1 6.1 0 1 0 -12.2 0M1013.7 871a6.1 6.1 0 1 0 12.2 0a6.1 6.1 0 1 0 -12.2 0M1017.8 777a6.1 6.1 0 1 0 12.2 0a6.1 6.1 0 1 0 -12.2 0M1022 687a6.1 6.1 0 1 0 12.2 0a6.1 6.1 0 1 0 -12.2 0M1026.1 608a6.1 6.1 0 1 0 12.2 0a6.1 6.1 0 1 0 -12.2 0M1030.3 542a6.1 6.1 0 1 0 12.2 0a6.1 6.1 0 1 0 -12.2 0M1034.4 489a6.1 6.1 0 1 0 12.2 0a6.1 6.1 0 1 0 -12.2 0M1038.6 447a6.1 6.1 0 1 0 12.2 0a6.1 6.1 0 1 0 -12.2 0M1042.7 413a6.1 6.1 0 1 0 12.2 0a6.1 6.1 0 1 0 -12.2 0M1046.9 388a6.1 6.1 0 1 0 12.2 0a6.1 6.1 0 1 0 -12.2 0M1051 358.6a6.1 6.1 0 1 0 12.2 0a6.1 6.1 0 1 0 -12.2 0M1055.2 344.7a6.1 6.1 0 1 0 12.2 0a6.1 6.1 0 1 0 -12.2 0M1059.3 335.9a6.1 6.1 0 1 0 12.2 0a6.1 6.1 0 1 0 -12.2 0M1063.5 328.2a6.1 6.1 0 1 0 12.2 0a6.1 6.1 0 1 0 -12.2 0M1067.6 321a6.1 6.1 0 1 0 12.2 0a6.1 6.1 0 1 0 -12.2 0M1071.8 314.6a6.1 6.1 0 1 0 12.2 0a6.1 6.1 0 1 0 -12.2 0M1075.9 309.7a6.1 6.1 0 1 0 12.2 0a6.1 6.1 0 1 0 -12.2 0M1080.1 305.9a6.1 6.1 0 1 0 12.2 0a6.1 6.1 0 1 0 -12.2 0M1084.2 303.2a6.1 6.1 0 1 0 12.2 0a6.1 6.1 0 1 0 -12.2 0M1088.4 301.1a6.1 6.1 0 1 0 12.2 0a6.1 6.1 0 1 0 -12.2 0M1092.6 298.9a6.1 6.1 0 1 0 12.2 0a6.1 6.1 0 1 0 -12.2 0M1096.7 296.6a6.1 6.1 0 1 0 12.2 0a6.1 6.1 0 1 0 -12.2 0M1100.9 294.8a6.1 6.1 0 1 0 12.2 0a6.1 6.1 0 1 0 -12.2 0M1105 293.4a6.1 6.1 0 1 0 12.2 0a6.1 6.1 0 1 0 -12.2 0M1109.2 292.1a6.1 6.1 0 1 0 12.2 0a6.1 6.1 0 1 0 -12.2 0M1113.3 290.9a6.1 6.1 0 1 0 12.2 0a6.1 6.1 0 1 0 -12.2 0M1117.5 289.9a6.1 6.1 0 1 0 12.2 0a6.1 6.1 0 1 0 -12.2 0M1121.6 289.2a6.1 6.1 0 1 0 12.2 0a6.1 6.1 0 1 0 -12.2 0M1125.8 288.5a6.1 6.1 0 1 0 12.2 0a6.1 6.1 0 1 0 -12.2 0M1129.9 287.9a6.1 6.1 0 1 0 12.2 0a6.1 6.1 0 1 0 -12.2 0M1134.1 287.4a6.1 6.1 0 1 0 12.2 0a6.1 6.1 0 1 0 -12.2 0M1138.2 287.1a6.1 6.1 0 1 0 12.2 0a6.1 6.1 0 1 0 -12.2 0M1142.4 286.8a6.1 6.1 0 1 0 12.2 0a6.1 6.1 0 1 0 -12.2 0M1146.5 286.6a6.1 6.1 0 1 0 12.2 0a6.1 6.1 0 1 0 -12.2 0M1150.7 286.4a6.1 6.1 0 1 0 12.2 0a6.1 6.1 0 1 0 -12.2 0M1154.8 286.3a6.1 6.1 0 1 0 12.2 0a6.1 6.1 0 1 0 -12.2 0M1159 286.4a6.1 6.1 0 1 0 12.2 0a6.1 6.1 0 1 0 -12.2 0M1163.1 286.6a6.1 6.1 0 1 0 12.2 0a6.1 6.1 0 1 0 -12.2 0M1167.3 286.9a6.1 6.1 0 1 0 12.2 0a6.1 6.1 0 1 0 -12.2 0M1171.4 287.3a6.1 6.1 0 1 0 12.2 0a6.1 6.1 0 1 0 -12.2 0M1175.6 288a6.1 6.1 0 1 0 12.2 0a6.1 6.1 0 1 0 -12.2 0M1179.7 289a6.1 6.1 0 1 0 12.2 0a6.1 6.1 0 1 0 -12.2 0M1183.9 290.2a6.1 6.1 0 1 0 12.2 0a6.1 6.1 0 1 0 -12.2 0M1188 291.9a6.1 6.1 0 1 0 12.2 0a6.1 6.1 0 1 0 -12.2 0M1192.2 294.1a6.1 6.1 0 1 0 12.2 0a6.1 6.1 0 1 0 -12.2 0M1196.4 297a6.1 6.1 0 1 0 12.2 0a6.1 6.1 0 1 0 -12.2 0M1200.5 300.7a6.1 6.1 0 1 0 12.2 0a6.1 6.1 0 1 0 -12.2 0M1204.7 305.4a6.1 6.1 0 1 0 12.2 0a6.1 6.1 0 1 0 -12.2 0M1208.8 311.1a6.1 6.1 0 1 0 12.2 0a6.1 6.1 0 1 0 -12.2 0M1213 318.1a6.1 6.1 0 1 0 12.2 0a6.1 6.1 0 1 0 -12.2 0M1217.1 326.3a6.1 6.1 0 1 0 12.2 0a6.1 6.1 0 1 0 -12.2 0M1221.3 336a6.1 6.1 0 1 0 12.2 0a6.1 6.1 0 1 0 -12.2 0M1225.4 349.6a6.1 6.1 0 1 0 12.2 0a6.1 6.1 0 1 0 -12.2 0M1229.6 367a6.1 6.1 0 1 0 12.2 0a6.1 6.1 0 1 0 -12.2 0M1233.7 394a6.1 6.1 0 1 0 12.2 0a6.1 6.1 0 1 0 -12.2 0M1237.9 437a6.1 6.1 0 1 0 12.2 0a6.1 6.1 0 1 0 -12.2 0M1242 499a6.1 6.1 0 1 0 12.2 0a6.1 6.1 0 1 0 -12.2 0M1246.2 586a6.1 6.1 0 1 0 12.2 0a6.1 6.1 0 1 0 -12.2 0M1250.3 693a6.1 6.1 0 1 0 12.2 0a6.1 6.1 0 1 0 -12.2 0M1254.5 813a6.1 6.1 0 1 0 12.2 0a6.1 6.1 0 1 0 -12.2 0M1258.6 928a6.1 6.1 0 1 0 12.2 0a6.1 6.1 0 1 0 -12.2 0M1262.8 1017a6.1 6.1 0 1 0 12.2 0a6.1 6.1 0 1 0 -12.2 0M1266.9 1067a6.1 6.1 0 1 0 12.2 0a6.1 6.1 0 1 0 -12.2 0M1271.1 1068a6.1 6.1 0 1 0 12.2 0a6.1 6.1 0 1 0 -12.2 0M1275.2 1025.5a6.1 6.1 0 1 0 12.2 0a6.1 6.1 0 1 0 -12.2 0M1279.4 951a6.1 6.1 0 1 0 12.2 0a6.1 6.1 0 1 0 -12.2 0M1283.5 859a6.1 6.1 0 1 0 12.2 0a6.1 6.1 0 1 0 -12.2 0M1287.7 763a6.1 6.1 0 1 0 12.2 0a6.1 6.1 0 1 0 -12.2 0M1291.8 674a6.1 6.1 0 1 0 12.2 0a6.1 6.1 0 1 0 -12.2 0M1296 598a6.1 6.1 0 1 0 12.2 0a6.1 6.1 0 1 0 -12.2 0M1300.2 531a6.1 6.1 0 1 0 12.2 0a6.1 6.1 0 1 0 -12.2 0M1304.3 479a6.1 6.1 0 1 0 12.2 0a6.1 6.1 0 1 0 -12.2 0M1308.5 438a6.1 6.1 0 1 0 12.2 0a6.1 6.1 0 1 0 -12.2 0M1312.6 406a6.1 6.1 0 1 0 12.2 0a6.1 6.1 0 1 0 -12.2 0M1316.8 382a6.1 6.1 0 1 0 12.2 0a6.1 6.1 0 1 0 -12.2 0M1320.9 354.2a6.1 6.1 0 1 0 12.2 0a6.1 6.1 0 1 0 -12.2 0M1325.1 342.9a6.1 6.1 0 1 0 12.2 0a6.1 6.1 0 1 0 -12.2 0M1329.2 334.3a6.1 6.1 0 1 0 12.2 0a6.1 6.1 0 1 0 -12.2 0M1333.4 326.7a6.1 6.1 0 1 0 12.2 0a6.1 6.1 0 1 0 -12.2 0M1337.5 319.7a6.1 6.1 0 1 0 12.2 0a6.1 6.1 0 1 0 -12.2 0M1341.7 313.5a6.1 6.1 0 1 0 12.2 0a6.1 6.1 0 1 0 -12.2 0M1345.8 308.9a6.1 6.1 0 1 0 12.2 0a6.1 6.1 0 1 0 -12.2 0M1350 305.3a6.1 6.1 0 1 0 12.2 0a6.1 6.1 0 1 0 -12.2 0M1354.1 302.7a6.1 6.1 0 1 0 12.2 0a6.1 6.1 0 1 0 -12.2 0M1358.3 300.7a6.1 6.1 0 1 0 12.2 0a6.1 6.1 0 1 0 -12.2 0M1362.4 298.4a6.1 6.1 0 1 0 12.2 0a6.1 6.1 0 1 0 -12.2 0M1366.6 296.2a6.1 6.1 0 1 0 12.2 0a6.1 6.1 0 1 0 -12.2 0M1370.7 294.5a6.1 6.1 0 1 0 12.2 0a6.1 6.1 0 1 0 -12.2 0M1374.9 293.1a6.1 6.1 0 1 0 12.2 0a6.1 6.1 0 1 0 -12.2 0M1379 291.9a6.1 6.1 0 1 0 12.2 0a6.1 6.1 0 1 0 -12.2 0M1383.2 290.7a6.1 6.1 0 1 0 12.2 0a6.1 6.1 0 1 0 -12.2 0M1387.3 289.8a6.1 6.1 0 1 0 12.2 0a6.1 6.1 0 1 0 -12.2 0M1391.5 289a6.1 6.1 0 1 0 12.2 0a6.1 6.1 0 1 0 -12.2 0M1395.6 288.3a6.1 6.1 0 1 0 12.2 0a6.1 6.1 0 1 0 -12.2 0M1399.8 287.7a6.1 6.1 0 1 0 12.2 0a6.1 6.1 0 1 0 -12.2 0M1404 287.3a6.1 6.1 0 1 0 12.2 0a6.1 6.1 0 1 0 -12.2 0M1408.1 287a6.1 6.1 0 1 0 12.2 0a6.1 6.1 0 1 0 -12.2 0M1412.3 286.8a6.1 6.1 0 1 0 12.2 0a6.1 6.1 0 1 0 -12.2 0M1416.4 286.5a6.1 6.1 0 1 0 12.2 0a6.1 6.1 0 1 0 -12.2 0M1420.6 286.4a6.1 6.1 0 1 0 12.2 0a6.1 6.1 0 1 0 -12.2 0M1424.7 286.3a6.1 6.1 0 1 0 12.2 0a6.1 6.1 0 1 0 -12.2 0M1428.9 286.4a6.1 6.1 0 1 0 12.2 0a6.1 6.1 0 1 0 -12.2 0M1433 286.7a6.1 6.1 0 1 0 12.2 0a6.1 6.1 0 1 0 -12.2 0M1437.2 287.1a6.1 6.1 0 1 0 12.2 0a6.1 6.1 0 1 0 -12.2 0M1441.3 287.7a6.1 6.1 0 1 0 12.2 0a6.1 6.1 0 1 0 -12.2 0M1445.5 288.6a6.1 6.1 0 1 0 12.2 0a6.1 6.1 0 1 0 -12.2 0M1449.6 289.6a6.1 6.1 0 1 0 12.2 0a6.1 6.1 0 1 0 -12.2 0M1453.8 291.2a6.1 6.1 0 1 0 12.2 0a6.1 6.1 0 1 0 -12.2 0M1457.9 293.1a6.1 6.1 0 1 0 12.2 0a6.1 6.1 0 1 0 -12.2 0M1462.1 295.8a6.1 6.1 0 1 0 12.2 0a6.1 6.1 0 1 0 -12.2 0M1466.2 299.1a6.1 6.1 0 1 0 12.2 0a6.1 6.1 0 1 0 -12.2 0M1470.4 303.4a6.1 6.1 0 1 0 12.2 0a6.1 6.1 0 1 0 -12.2 0M1474.5 308.7a6.1 6.1 0 1 0 12.2 0a6.1 6.1 0 1 0 -12.2 0M1478.7 315.1a6.1 6.1 0 1 0 12.2 0a6.1 6.1 0 1 0 -12.2 0M1482.8 322.9a6.1 6.1 0 1 0 12.2 0a6.1 6.1 0 1 0 -12.2 0M1487 331.9a6.1 6.1 0 1 0 12.2 0a6.1 6.1 0 1 0 -12.2 0M1491.1 343.5a6.1 6.1 0 1 0 12.2 0a6.1 6.1 0 1 0 -12.2 0M1495.3 359.9a6.1 6.1 0 1 0 12.2 0a6.1 6.1 0 1 0 -12.2 0M1499.4 382a6.1 6.1 0 1 0 12.2 0a6.1 6.1 0 1 0 -12.2 0M1503.6 418a6.1 6.1 0 1 0 12.2 0a6.1 6.1 0 1 0 -12.2 0M1507.8 473a6.1 6.1 0 1 0 12.2 0a6.1 6.1 0 1 0 -12.2 0M1511.9 551a6.1 6.1 0 1 0 12.2 0a6.1 6.1 0 1 0 -12.2 0M1516.1 653a6.1 6.1 0 1 0 12.2 0a6.1 6.1 0 1 0 -12.2 0M1520.2 776a6.1 6.1 0 1 0 12.2 0a6.1 6.1 0 1 0 -12.2 0M1524.4 901a6.1 6.1 0 1 0 12.2 0a6.1 6.1 0 1 0 -12.2 0M1528.5 1003a6.1 6.1 0 1 0 12.2 0a6.1 6.1 0 1 0 -12.2 0M1532.7 1068a6.1 6.1 0 1 0 12.2 0a6.1 6.1 0 1 0 -12.2 0M1536.8 1077a6.1 6.1 0 1 0 12.2 0a6.1 6.1 0 1 0 -12.2 0M1541 1040a6.1 6.1 0 1 0 12.2 0a6.1 6.1 0 1 0 -12.2 0M1545.1 967a6.1 6.1 0 1 0 12.2 0a6.1 6.1 0 1 0 -12.2 0M1549.3 878a6.1 6.1 0 1 0 12.2 0a6.1 6.1 0 1 0 -12.2 0M1553.4 784a6.1 6.1 0 1 0 12.2 0a6.1 6.1 0 1 0 -12.2 0M1557.6 696a6.1 6.1 0 1 0 12.2 0a6.1 6.1 0 1 0 -12.2 0M1561.7 617a6.1 6.1 0 1 0 12.2 0a6.1 6.1 0 1 0 -12.2 0M1565.9 551a6.1 6.1 0 1 0 12.2 0a6.1 6.1 0 1 0 -12.2 0M1570 495a6.1 6.1 0 1 0 12.2 0a6.1 6.1 0 1 0 -12.2 0M1574.2 450a6.1 6.1 0 1 0 12.2 0a6.1 6.1 0 1 0 -12.2 0M1578.3 418a6.1 6.1 0 1 0 12.2 0a6.1 6.1 0 1 0 -12.2 0M1582.5 392a6.1 6.1 0 1 0 12.2 0a6.1 6.1 0 1 0 -12.2 0M1586.6 356.8a6.1 6.1 0 1 0 12.2 0a6.1 6.1 0 1 0 -12.2 0M1590.8 343.8a6.1 6.1 0 1 0 12.2 0a6.1 6.1 0 1 0 -12.2 0M1594.9 335.1a6.1 6.1 0 1 0 12.2 0a6.1 6.1 0 1 0 -12.2 0M1599.1 327.5a6.1 6.1 0 1 0 12.2 0a6.1 6.1 0 1 0 -12.2 0M1603.2 320.3a6.1 6.1 0 1 0 12.2 0a6.1 6.1 0 1 0 -12.2 0M1607.4 314.1a6.1 6.1 0 1 0 12.2 0a6.1 6.1 0 1 0 -12.2 0M1611.6 309.3a6.1 6.1 0 1 0 12.2 0a6.1 6.1 0 1 0 -12.2 0M1615.7 305.6a6.1 6.1 0 1 0 12.2 0a6.1 6.1 0 1 0 -12.2 0M1619.9 303a6.1 6.1 0 1 0 12.2 0a6.1 6.1 0 1 0 -12.2 0M1624 300.9a6.1 6.1 0 1 0 12.2 0a6.1 6.1 0 1 0 -12.2 0M1628.2 298.7a6.1 6.1 0 1 0 12.2 0a6.1 6.1 0 1 0 -12.2 0M1632.3 296.4a6.1 6.1 0 1 0 12.2 0a6.1 6.1 0 1 0 -12.2 0M1636.5 294.7a6.1 6.1 0 1 0 12.2 0a6.1 6.1 0 1 0 -12.2 0M1640.6 293.3a6.1 6.1 0 1 0 12.2 0a6.1 6.1 0 1 0 -12.2 0M1644.8 292a6.1 6.1 0 1 0 12.2 0a6.1 6.1 0 1 0 -12.2 0M1648.9 290.8a6.1 6.1 0 1 0 12.2 0a6.1 6.1 0 1 0 -12.2 0M1653.1 289.9a6.1 6.1 0 1 0 12.2 0a6.1 6.1 0 1 0 -12.2 0M1657.2 289.1a6.1 6.1 0 1 0 12.2 0a6.1 6.1 0 1 0 -12.2 0M1661.4 288.4a6.1 6.1 0 1 0 12.2 0a6.1 6.1 0 1 0 -12.2 0M1665.5 287.8a6.1 6.1 0 1 0 12.2 0a6.1 6.1 0 1 0 -12.2 0M1669.7 287.4a6.1 6.1 0 1 0 12.2 0a6.1 6.1 0 1 0 -12.2 0M1673.8 287.1a6.1 6.1 0 1 0 12.2 0a6.1 6.1 0 1 0 -12.2 0M1678 286.8a6.1 6.1 0 1 0 12.2 0a6.1 6.1 0 1 0 -12.2 0M1682.1 286.5a6.1 6.1 0 1 0 12.2 0a6.1 6.1 0 1 0 -12.2 0M1686.3 286.4a6.1 6.1 0 1 0 12.2 0a6.1 6.1 0 1 0 -12.2 0M1690.4 286.3a6.1 6.1 0 1 0 12.2 0a6.1 6.1 0 1 0 -12.2 0M1694.6 286.4a6.1 6.1 0 1 0 12.2 0a6.1 6.1 0 1 0 -12.2 0M1698.7 286.5a6.1 6.1 0 1 0 12.2 0a6.1 6.1 0 1 0 -12.2 0M1702.9 286.8a6.1 6.1 0 1 0 12.2 0a6.1 6.1 0 1 0 -12.2 0M1707 287.2a6.1 6.1 0 1 0 12.2 0a6.1 6.1 0 1 0 -12.2 0M1711.2 287.9a6.1 6.1 0 1 0 12.2 0a6.1 6.1 0 1 0 -12.2 0M1715.4 288.8a6.1 6.1 0 1 0 12.2 0a6.1 6.1 0 1 0 -12.2 0M1719.5 289.9a6.1 6.1 0 1 0 12.2 0a6.1 6.1 0 1 0 -12.2 0M1723.7 291.5a6.1 6.1 0 1 0 12.2 0a6.1 6.1 0 1 0 -12.2 0M1727.8 293.6a6.1 6.1 0 1 0 12.2 0a6.1 6.1 0 1 0 -12.2 0M1732 296.4a6.1 6.1 0 1 0 12.2 0a6.1 6.1 0 1 0 -12.2 0M1736.1 299.9a6.1 6.1 0 1 0 12.2 0a6.1 6.1 0 1 0 -12.2 0M1740.3 304.4a6.1 6.1 0 1 0 12.2 0a6.1 6.1 0 1 0 -12.2 0M1744.4 309.8a6.1 6.1 0 1 0 12.2 0a6.1 6.1 0 1 0 -12.2 0M1748.6 316.6a6.1 6.1 0 1 0 12.2 0a6.1 6.1 0 1 0 -12.2 0M1752.7 324.6a6.1 6.1 0 1 0 12.2 0a6.1 6.1 0 1 0 -12.2 0M1756.9 333.9a6.1 6.1 0 1 0 12.2 0a6.1 6.1 0 1 0 -12.2 0M1761 346.7a6.1 6.1 0 1 0 12.2 0a6.1 6.1 0 1 0 -12.2 0M1765.2 362a6.1 6.1 0 1 0 12.2 0a6.1 6.1 0 1 0 -12.2 0M1769.3 388a6.1 6.1 0 1 0 12.2 0a6.1 6.1 0 1 0 -12.2 0M1773.5 427a6.1 6.1 0 1 0 12.2 0a6.1 6.1 0 1 0 -12.2 0M1777.6 485a6.1 6.1 0 1 0 12.2 0a6.1 6.1 0 1 0 -12.2 0M1781.8 566a6.1 6.1 0 1 0 12.2 0a6.1 6.1 0 1 0 -12.2 0M1785.9 670a6.1 6.1 0 1 0 12.2 0a6.1 6.1 0 1 0 -12.2 0M1790.1 787a6.1 6.1 0 1 0 12.2 0a6.1 6.1 0 1 0 -12.2 0M1794.2 904a6.1 6.1 0 1 0 12.2 0a6.1 6.1 0 1 0 -12.2 0M1798.4 998a6.1 6.1 0 1 0 12.2 0a6.1 6.1 0 1 0 -12.2 0M1802.5 1056.5a6.1 6.1 0 1 0 12.2 0a6.1 6.1 0 1 0 -12.2 0M1806.7 1068.6a6.1 6.1 0 1 0 12.2 0a6.1 6.1 0 1 0 -12.2 0M1810.8 1035a6.1 6.1 0 1 0 12.2 0a6.1 6.1 0 1 0 -12.2 0M1815 967a6.1 6.1 0 1 0 12.2 0a6.1 6.1 0 1 0 -12.2 0M1819.2 878a6.1 6.1 0 1 0 12.2 0a6.1 6.1 0 1 0 -12.2 0M1823.3 783a6.1 6.1 0 1 0 12.2 0a6.1 6.1 0 1 0 -12.2 0M1827.5 691a6.1 6.1 0 1 0 12.2 0a6.1 6.1 0 1 0 -12.2 0M1831.6 611a6.1 6.1 0 1 0 12.2 0a6.1 6.1 0 1 0 -12.2 0M1835.8 544a6.1 6.1 0 1 0 12.2 0a6.1 6.1 0 1 0 -12.2 0M1839.9 489a6.1 6.1 0 1 0 12.2 0a6.1 6.1 0 1 0 -12.2 0M1844.1 447a6.1 6.1 0 1 0 12.2 0a6.1 6.1 0 1 0 -12.2 0M1848.2 412a6.1 6.1 0 1 0 12.2 0a6.1 6.1 0 1 0 -12.2 0M1852.4 386a6.1 6.1 0 1 0 12.2 0a6.1 6.1 0 1 0 -12.2 0M1856.5 366a6.1 6.1 0 1 0 12.2 0a6.1 6.1 0 1 0 -12.2 0M1860.7 351a6.1 6.1 0 1 0 12.2 0a6.1 6.1 0 1 0 -12.2 0M1864.8 338a6.1 6.1 0 1 0 12.2 0a6.1 6.1 0 1 0 -12.2 0M1869 327.5a6.1 6.1 0 1 0 12.2 0a6.1 6.1 0 1 0 -12.2 0M1873.1 319a6.1 6.1 0 1 0 12.2 0a6.1 6.1 0 1 0 -12.2 0M1877.3 312.5a6.1 6.1 0 1 0 12.2 0a6.1 6.1 0 1 0 -12.2 0M1881.4 307.5a6.1 6.1 0 1 0 12.2 0a6.1 6.1 0 1 0 -12.2 0M1885.6 303.5a6.1 6.1 0 1 0 12.2 0a6.1 6.1 0 1 0 -12.2 0M1889.7 300.5a6.1 6.1 0 1 0 12.2 0a6.1 6.1 0 1 0 -12.2 0M1893.9 298.1a6.1 6.1 0 1 0 12.2 0a6.1 6.1 0 1 0 -12.2 0M1898 295.9a6.1 6.1 0 1 0 12.2 0a6.1 6.1 0 1 0 -12.2 0M1902.2 294a6.1 6.1 0 1 0 12.2 0a6.1 6.1 0 1 0 -12.2 0M1906.3 292.4a6.1 6.1 0 1 0 12.2 0a6.1 6.1 0 1 0 -12.2 0M1910.5 291a6.1 6.1 0 1 0 12.2 0a6.1 6.1 0 1 0 -12.2 0M1914.6 289.9a6.1 6.1 0 1 0 12.2 0a6.1 6.1 0 1 0 -12.2 0M1918.8 289a6.1 6.1 0 1 0 12.2 0a6.1 6.1 0 1 0 -12.2 0" fill="none" stroke="#009620" stroke-width="5.6"/>
<polyline points="388.7,289.3 392.8,289.5 397,290 401.1,290.9 405.3,292 409.4,293.2 413.6,294.6 417.7,296.4 421.9,298.6 426,301.2 430.2,304.1 434.3,307.7 438.5,311.7 442.6,315.8 446.8,320 450.9,325.3 455.1,333.2 459.2,343.6 463.4,361 467.5,388 471.7,433 475.9,495 480,577 484.2,676 488.3,785 492.5,887 496.6,971 500.8,1019 504.9,1029 509.1,1002 513.2,951 517.4,885 521.5,813 525.7,742 529.8,671 534,609 538.1,554.5 542.3,508 546.4,467 550.6,433 554.7,408 558.9,385 563,367 567.2,353.5 571.3,342 575.5,332 579.7,324 583.8,318 588,313 592.1,309.2 596.3,306 600.4,303.2 604.6,301 608.7,299 612.9,297.1 617,295.3 621.2,293.7 625.3,292.3 629.5,291.1 633.6,290.1 637.8,289.5 641.9,288.9 646.1,288.4 650.2,288 654.4,287.9 658.5,288 662.7,288.4 666.8,288.8 671,289.3 675.1,289.9 679.3,290.8 683.5,291.8 687.6,292.9 691.8,294.3 695.9,296 700.1,298.1 704.2,300.6 708.4,303.5 712.5,306.9 716.7,310.8 720.8,315 725,319.1 729.1,324 733.3,331.5 737.4,341 741.6,358.5 745.7,382.5 749.9,419 754,472.5 758.2,550 762.3,645 766.5,752 770.6,861 774.8,953 778.9,1012 783.1,1030 787.3,1012 791.4,967 795.6,899 799.7,827 803.9,752 808,680.6 812.2,614 816.3,560 820.5,510 824.6,472.5 828.8,437 832.9,410.6 837.1,385 841.2,368 845.4,354 849.5,342 853.7,332 857.8,324 862,318 866.1,313 870.3,309.2 874.4,306 878.6,303.2 882.7,301 886.9,299 891.1,297.1 895.2,295.3 899.4,293.7 903.5,292.3 907.7,291.1 911.8,290.1 916,289.5 920.1,288.9 924.3,288.4 928.4,288 932.6,287.9 936.7,288 940.9,288.4 945,288.8 949.2,289.3 953.3,289.9 957.5,290.8 961.6,291.8 965.8,292.9 969.9,294.3 974.1,296 978.2,298.1 982.4,300.6 986.5,303.5 990.7,306.9 994.9,310.8 999,315 1003.2,319.1 1007.3,324 1011.5,331.5 1015.6,341 1019.8,363 1023.9,387 1028.1,425 1032.2,486 1036.4,565 1040.5,662 1044.7,775 1048.8,880 1053,964 1057.1,1016 1061.3,1027 1065.4,1002 1069.6,954.5 1073.7,888 1077.9,813.5 1082,740 1086.2,668 1090.3,605 1094.5,548.4 1098.7,502 1102.8,458.4 1107,426 1111.1,400.7 1115.3,379.6 1119.4,362.8 1123.6,348.2 1127.7,336.7 1131.9,327.7 1136,320.8 1140.2,315.3 1144.3,311 1148.5,307.5 1152.6,304.6 1156.8,302.1 1160.9,299.9 1165.1,298.1 1169.2,296.2 1173.4,294.5 1177.5,293 1181.7,291.7 1185.8,290.6 1190,289.8 1194.1,289.2 1198.3,288.6 1202.5,288.2 1206.6,287.9 1210.8,287.9 1214.9,288.2 1219.1,288.6 1223.2,289.1 1227.4,289.6 1231.5,290.3 1235.7,291.3 1239.8,292.3 1244,293.6 1248.1,295.1 1252.3,297 1256.4,299.3 1260.6,302 1264.7,305.1 1268.9,308.8 1273,312.9 1277.2,317 1281.3,321.4 1285.5,327.4 1289.6,335.8 1293.8,348 1297.9,367 1302.1,394 1306.3,436 1310.4,500.6 1314.6,588 1318.7,689 1322.9,794 1327,898.5 1331.2,976 1335.3,1018 1339.5,1020 1343.6,989 1347.8,935.5 1351.9,866.5 1356.1,792 1360.2,717 1364.4,648 1368.5,588 1372.7,534.4 1376.8,491 1381,453 1385.1,422 1389.3,398 1393.4,378 1397.6,361.4 1401.7,347.9 1405.9,336.7 1410.1,327.7 1414.2,320.8 1418.4,315.3 1422.5,311 1426.7,307.5 1430.8,304.6 1435,302.1 1439.1,299.9 1443.3,298.1 1447.4,296.2 1451.6,294.5 1455.7,293 1459.9,291.7 1464,290.6 1468.2,289.8 1472.3,289.2 1476.5,288.6 1480.6,288.2 1484.8,287.9 1488.9,287.9 1493.1,288.2 1497.2,288.6 1501.4,289.1 1505.5,289.6 1509.7,290.3 1513.9,291.3 1518,292.3 1522.2,293.6 1526.3,295.1 1530.5,297 1534.6,299.3 1538.8,302 1542.9,305.1 1547.1,308.8 1551.2,312.9 1555.4,317 1559.5,321.4 1563.7,327.4 1567.8,335.8 1572,348.1 1576.1,368 1580.3,399 1584.4,446 1588.6,508 1592.7,597 1596.9,697.5 1601,809 1605.2,908 1609.3,982 1613.5,1017 1617.7,1018 1621.8,984 1626,931 1630.1,863 1634.3,789 1638.4,715 1642.6,647 1646.7,586 1650.9,531.5 1655,486 1659.2,449 1663.3,419 1667.5,394 1671.6,375 1675.8,360 1679.9,348.3 1684.1,337.8 1688.2,328.6 1692.4,321.4 1696.5,315.8 1700.7,311.4 1704.8,307.8 1709,304.8 1713.1,302.3 1717.3,300.1 1721.5,298.2 1725.6,296.4 1729.8,294.6 1733.9,293.1 1738.1,291.8 1742.2,290.7 1746.4,289.8 1750.5,289.2 1754.7,288.7 1758.8,288.2 1763,287.9 1767.1,287.9 1771.3,288.1 1775.4,288.5 1779.6,289 1783.7,289.6 1787.9,290.3 1792,291.2 1796.2,292.2 1800.3,293.5 1804.5,295 1808.6,296.8 1812.8,299 1816.9,301.7 1821.1,304.8 1825.3,308.4 1829.4,312.5 1833.6,316.6 1837.7,320.9 1841.9,326.7 1846,334.9 1850.2,346.6 1854.3,366 1858.5,394 1862.6,434.5 1866.8,498 1870.9,581 1875.1,678 1879.2,786 1883.4,889 1887.5,966 1891.7,1010 1895.8,1016 1900,987 1904.1,939 1908.3,873 1912.4,800 1916.6,728 1920.7,659.5 1924.9,596" fill="none" stroke="#000" stroke-width="4.2" stroke-linejoin="round"/>
<path d="M388.7 278.3l9.4 17.4h-18.8zM392.8 278.5l9.4 17.4h-18.8zM397 279l9.4 17.4h-18.8zM401.1 279.9l9.4 17.4h-18.8zM405.3 281l9.4 17.4h-18.8zM409.4 282.2l9.4 17.4h-18.8zM413.6 283.6l9.4 17.4h-18.8zM417.7 285.4l9.4 17.4h-18.8zM421.9 287.6l9.4 17.4h-18.8zM426 290.2l9.4 17.4h-18.8zM430.2 293.1l9.4 17.4h-18.8zM434.3 296.7l9.4 17.4h-18.8zM438.5 300.7l9.4 17.4h-18.8zM442.6 304.8l9.4 17.4h-18.8zM446.8 309l9.4 17.4h-18.8zM450.9 314.3l9.4 17.4h-18.8zM455.1 322.2l9.4 17.4h-18.8zM459.2 332.6l9.4 17.4h-18.8zM463.4 350l9.4 17.4h-18.8zM467.5 377l9.4 17.4h-18.8zM471.7 422l9.4 17.4h-18.8zM475.9 484l9.4 17.4h-18.8zM480 566l9.4 17.4h-18.8zM484.2 665l9.4 17.4h-18.8zM488.3 774l9.4 17.4h-18.8zM492.5 876l9.4 17.4h-18.8zM496.6 960l9.4 17.4h-18.8zM500.8 1008l9.4 17.4h-18.8zM504.9 1018l9.4 17.4h-18.8zM509.1 991l9.4 17.4h-18.8zM513.2 940l9.4 17.4h-18.8zM517.4 874l9.4 17.4h-18.8zM521.5 802l9.4 17.4h-18.8zM525.7 731l9.4 17.4h-18.8zM529.8 660l9.4 17.4h-18.8zM534 598l9.4 17.4h-18.8zM538.1 543.5l9.4 17.4h-18.8zM542.3 497l9.4 17.4h-18.8zM546.4 456l9.4 17.4h-18.8zM550.6 422l9.4 17.4h-18.8zM554.7 397l9.4 17.4h-18.8zM558.9 374l9.4 17.4h-18.8zM563 356l9.4 17.4h-18.8zM567.2 342.5l9.4 17.4h-18.8zM571.3 331l9.4 17.4h-18.8zM575.5 321l9.4 17.4h-18.8zM579.7 313l9.4 17.4h-18.8zM583.8 307l9.4 17.4h-18.8zM588 302l9.4 17.4h-18.8zM592.1 298.2l9.4 17.4h-18.8zM596.3 295l9.4 17.4h-18.8zM600.4 292.2l9.4 17.4h-18.8zM604.6 290l9.4 17.4h-18.8zM608.7 288l9.4 17.4h-18.8zM612.9 286.1l9.4 17.4h-18.8zM617 284.3l9.4 17.4h-18.8zM621.2 282.7l9.4 17.4h-18.8zM625.3 281.3l9.4 17.4h-18.8zM629.5 280.1l9.4 17.4h-18.8zM633.6 279.1l9.4 17.4h-18.8zM637.8 278.5l9.4 17.4h-18.8zM641.9 277.9l9.4 17.4h-18.8zM646.1 277.4l9.4 17.4h-18.8zM650.2 277l9.4 17.4h-18.8zM654.4 276.9l9.4 17.4h-18.8zM658.5 277l9.4 17.4h-18.8zM662.7 277.4l9.4 17.4h-18.8zM666.8 277.8l9.4 17.4h-18.8zM671 278.3l9.4 17.4h-18.8zM675.1 278.9l9.4 17.4h-18.8zM679.3 279.8l9.4 17.4h-18.8zM683.5 280.8l9.4 17.4h-18.8zM687.6 281.9l9.4 17.4h-18.8zM691.8 283.3l9.4 17.4h-18.8zM695.9 285l9.4 17.4h-18.8zM700.1 287.1l9.4 17.4h-18.8zM704.2 289.6l9.4 17.4h-18.8zM708.4 292.5l9.4 17.4h-18.8zM712.5 295.9l9.4 17.4h-18.8zM716.7 299.8l9.4 17.4h-18.8zM720.8 304l9.4 17.4h-18.8zM725 308.1l9.4 17.4h-18.8zM729.1 313l9.4 17.4h-18.8zM733.3 320.5l9.4 17.4h-18.8zM737.4 330l9.4 17.4h-18.8zM741.6 347.5l9.4 17.4h-18.8zM745.7 371.5l9.4 17.4h-18.8zM749.9 408l9.4 17.4h-18.8zM754 461.5l9.4 17.4h-18.8zM758.2 539l9.4 17.4h-18.8zM762.3 634l9.4 17.4h-18.8zM766.5 741l9.4 17.4h-18.8zM770.6 850l9.4 17.4h-18.8zM774.8 942l9.4 17.4h-18.8zM778.9 1001l9.4 17.4h-18.8zM783.1 1019l9.4 17.4h-18.8zM787.3 1001l9.4 17.4h-18.8zM791.4 956l9.4 17.4h-18.8zM795.6 888l9.4 17.4h-18.8zM799.7 816l9.4 17.4h-18.8zM803.9 741l9.4 17.4h-18.8zM808 669.6l9.4 17.4h-18.8zM812.2 603l9.4 17.4h-18.8zM816.3 549l9.4 17.4h-18.8zM820.5 499l9.4 17.4h-18.8zM824.6 461.5l9.4 17.4h-18.8zM828.8 426l9.4 17.4h-18.8zM832.9 399.6l9.4 17.4h-18.8zM837.1 374l9.4 17.4h-18.8zM841.2 357l9.4 17.4h-18.8zM845.4 343l9.4 17.4h-18.8zM849.5 331l9.4 17.4h-18.8zM853.7 321l9.4 17.4h-18.8zM857.8 313l9.4 17.4h-18.8zM862 307l9.4 17.4h-18.8zM866.1 302l9.4 17.4h-18.8zM870.3 298.2l9.4 17.4h-18.8zM874.4 295l9.4 17.4h-18.8zM878.6 292.2l9.4 17.4h-18.8zM882.7 290l9.4 17.4h-18.8zM886.9 288l9.4 17.4h-18.8zM891.1 286.1l9.4 17.4h-18.8zM895.2 284.3l9.4 17.4h-18.8zM899.4 282.7l9.4 17.4h-18.8zM903.5 281.3l9.4 17.4h-18.8zM907.7 280.1l9.4 17.4h-18.8zM911.8 279.1l9.4 17.4h-18.8zM916 278.5l9.4 17.4h-18.8zM920.1 277.9l9.4 17.4h-18.8zM924.3 277.4l9.4 17.4h-18.8zM928.4 277l9.4 17.4h-18.8zM932.6 276.9l9.4 17.4h-18.8zM936.7 277l9.4 17.4h-18.8zM940.9 277.4l9.4 17.4h-18.8zM945 277.8l9.4 17.4h-18.8zM949.2 278.3l9.4 17.4h-18.8zM953.3 278.9l9.4 17.4h-18.8zM957.5 279.8l9.4 17.4h-18.8zM961.6 280.8l9.4 17.4h-18.8zM965.8 281.9l9.4 17.4h-18.8zM969.9 283.3l9.4 17.4h-18.8zM974.1 285l9.4 17.4h-18.8zM978.2 287.1l9.4 17.4h-18.8zM982.4 289.6l9.4 17.4h-18.8zM986.5 292.5l9.4 17.4h-18.8zM990.7 295.9l9.4 17.4h-18.8zM994.9 299.8l9.4 17.4h-18.8zM999 304l9.4 17.4h-18.8zM1003.2 308.1l9.4 17.4h-18.8zM1007.3 313l9.4 17.4h-18.8zM1011.5 320.5l9.4 17.4h-18.8zM1015.6 330l9.4 17.4h-18.8zM1019.8 352l9.4 17.4h-18.8zM1023.9 376l9.4 17.4h-18.8zM1028.1 414l9.4 17.4h-18.8zM1032.2 475l9.4 17.4h-18.8zM1036.4 554l9.4 17.4h-18.8zM1040.5 651l9.4 17.4h-18.8zM1044.7 764l9.4 17.4h-18.8zM1048.8 869l9.4 17.4h-18.8zM1053 953l9.4 17.4h-18.8zM1057.1 1005l9.4 17.4h-18.8zM1061.3 1016l9.4 17.4h-18.8zM1065.4 991l9.4 17.4h-18.8zM1069.6 943.5l9.4 17.4h-18.8zM1073.7 877l9.4 17.4h-18.8zM1077.9 802.5l9.4 17.4h-18.8zM1082 729l9.4 17.4h-18.8zM1086.2 657l9.4 17.4h-18.8zM1090.3 594l9.4 17.4h-18.8zM1094.5 537.4l9.4 17.4h-18.8zM1098.7 491l9.4 17.4h-18.8zM1102.8 447.4l9.4 17.4h-18.8zM1107 415l9.4 17.4h-18.8zM1111.1 389.7l9.4 17.4h-18.8zM1115.3 368.6l9.4 17.4h-18.8zM1119.4 351.8l9.4 17.4h-18.8zM1123.6 337.2l9.4 17.4h-18.8zM1127.7 325.7l9.4 17.4h-18.8zM1131.9 316.7l9.4 17.4h-18.8zM1136 309.8l9.4 17.4h-18.8zM1140.2 304.3l9.4 17.4h-18.8zM1144.3 300l9.4 17.4h-18.8zM1148.5 296.5l9.4 17.4h-18.8zM1152.6 293.6l9.4 17.4h-18.8zM1156.8 291.1l9.4 17.4h-18.8zM1160.9 288.9l9.4 17.4h-18.8zM1165.1 287.1l9.4 17.4h-18.8zM1169.2 285.2l9.4 17.4h-18.8zM1173.4 283.5l9.4 17.4h-18.8zM1177.5 282l9.4 17.4h-18.8zM1181.7 280.7l9.4 17.4h-18.8zM1185.8 279.6l9.4 17.4h-18.8zM1190 278.8l9.4 17.4h-18.8zM1194.1 278.2l9.4 17.4h-18.8zM1198.3 277.6l9.4 17.4h-18.8zM1202.5 277.2l9.4 17.4h-18.8zM1206.6 276.9l9.4 17.4h-18.8zM1210.8 276.9l9.4 17.4h-18.8zM1214.9 277.2l9.4 17.4h-18.8zM1219.1 277.6l9.4 17.4h-18.8zM1223.2 278.1l9.4 17.4h-18.8zM1227.4 278.6l9.4 17.4h-18.8zM1231.5 279.3l9.4 17.4h-18.8zM1235.7 280.3l9.4 17.4h-18.8zM1239.8 281.3l9.4 17.4h-18.8zM1244 282.6l9.4 17.4h-18.8zM1248.1 284.1l9.4 17.4h-18.8zM1252.3 286l9.4 17.4h-18.8zM1256.4 288.3l9.4 17.4h-18.8zM1260.6 291l9.4 17.4h-18.8zM1264.7 294.1l9.4 17.4h-18.8zM1268.9 297.8l9.4 17.4h-18.8zM1273 301.9l9.4 17.4h-18.8zM1277.2 306l9.4 17.4h-18.8zM1281.3 310.4l9.4 17.4h-18.8zM1285.5 316.4l9.4 17.4h-18.8zM1289.6 324.8l9.4 17.4h-18.8zM1293.8 337l9.4 17.4h-18.8zM1297.9 356l9.4 17.4h-18.8zM1302.1 383l9.4 17.4h-18.8zM1306.3 425l9.4 17.4h-18.8zM1310.4 489.6l9.4 17.4h-18.8zM1314.6 577l9.4 17.4h-18.8zM1318.7 678l9.4 17.4h-18.8zM1322.9 783l9.4 17.4h-18.8zM1327 887.5l9.4 17.4h-18.8zM1331.2 965l9.4 17.4h-18.8zM1335.3 1007l9.4 17.4h-18.8zM1339.5 1009l9.4 17.4h-18.8zM1343.6 978l9.4 17.4h-18.8zM1347.8 924.5l9.4 17.4h-18.8zM1351.9 855.5l9.4 17.4h-18.8zM1356.1 781l9.4 17.4h-18.8zM1360.2 706l9.4 17.4h-18.8zM1364.4 637l9.4 17.4h-18.8zM1368.5 577l9.4 17.4h-18.8zM1372.7 523.4l9.4 17.4h-18.8zM1376.8 480l9.4 17.4h-18.8zM1381 442l9.4 17.4h-18.8zM1385.1 411l9.4 17.4h-18.8zM1389.3 387l9.4 17.4h-18.8zM1393.4 367l9.4 17.4h-18.8zM1397.6 350.4l9.4 17.4h-18.8zM1401.7 336.9l9.4 17.4h-18.8zM1405.9 325.7l9.4 17.4h-18.8zM1410.1 316.7l9.4 17.4h-18.8zM1414.2 309.8l9.4 17.4h-18.8zM1418.4 304.3l9.4 17.4h-18.8zM1422.5 300l9.4 17.4h-18.8zM1426.7 296.5l9.4 17.4h-18.8zM1430.8 293.6l9.4 17.4h-18.8zM1435 291.1l9.4 17.4h-18.8zM1439.1 288.9l9.4 17.4h-18.8zM1443.3 287.1l9.4 17.4h-18.8zM1447.4 285.2l9.4 17.4h-18.8zM1451.6 283.5l9.4 17.4h-18.8zM1455.7 282l9.4 17.4h-18.8zM1459.9 280.7l9.4 17.4h-18.8zM1464 279.6l9.4 17.4h-18.8zM1468.2 278.8l9.4 17.4h-18.8zM1472.3 278.2l9.4 17.4h-18.8zM1476.5 277.6l9.4 17.4h-18.8zM1480.6 277.2l9.4 17.4h-18.8zM1484.8 276.9l9.4 17.4h-18.8zM1488.9 276.9l9.4 17.4h-18.8zM1493.1 277.2l9.4 17.4h-18.8zM1497.2 277.6l9.4 17.4h-18.8zM1501.4 278.1l9.4 17.4h-18.8zM1505.5 278.6l9.4 17.4h-18.8zM1509.7 279.3l9.4 17.4h-18.8zM1513.9 280.3l9.4 17.4h-18.8zM1518 281.3l9.4 17.4h-18.8zM1522.2 282.6l9.4 17.4h-18.8zM1526.3 284.1l9.4 17.4h-18.8zM1530.5 286l9.4 17.4h-18.8zM1534.6 288.3l9.4 17.4h-18.8zM1538.8 291l9.4 17.4h-18.8zM1542.9 294.1l9.4 17.4h-18.8zM1547.1 297.8l9.4 17.4h-18.8zM1551.2 301.9l9.4 17.4h-18.8zM1555.4 306l9.4 17.4h-18.8zM1559.5 310.4l9.4 17.4h-18.8zM1563.7 316.4l9.4 17.4h-18.8zM1567.8 324.8l9.4 17.4h-18.8zM1572 337.1l9.4 17.4h-18.8zM1576.1 357l9.4 17.4h-18.8zM1580.3 388l9.4 17.4h-18.8zM1584.4 435l9.4 17.4h-18.8zM1588.6 497l9.4 17.4h-18.8zM1592.7 586l9.4 17.4h-18.8zM1596.9 686.5l9.4 17.4h-18.8zM1601 798l9.4 17.4h-18.8zM1605.2 897l9.4 17.4h-18.8zM1609.3 971l9.4 17.4h-18.8zM1613.5 1006l9.4 17.4h-18.8zM1617.7 1007l9.4 17.4h-18.8zM1621.8 973l9.4 17.4h-18.8zM1626 920l9.4 17.4h-18.8zM1630.1 852l9.4 17.4h-18.8zM1634.3 778l9.4 17.4h-18.8zM1638.4 704l9.4 17.4h-18.8zM1642.6 636l9.4 17.4h-18.8zM1646.7 575l9.4 17.4h-18.8zM1650.9 520.5l9.4 17.4h-18.8zM1655 475l9.4 17.4h-18.8zM1659.2 438l9.4 17.4h-18.8zM1663.3 408l9.4 17.4h-18.8zM1667.5 383l9.4 17.4h-18.8zM1671.6 364l9.4 17.4h-18.8zM1675.8 349l9.4 17.4h-18.8zM1679.9 337.3l9.4 17.4h-18.8zM1684.1 326.8l9.4 17.4h-18.8zM1688.2 317.6l9.4 17.4h-18.8zM1692.4 310.4l9.4 17.4h-18.8zM1696.5 304.8l9.4 17.4h-18.8zM1700.7 300.4l9.4 17.4h-18.8zM1704.8 296.8l9.4 17.4h-18.8zM1709 293.8l9.4 17.4h-18.8zM1713.1 291.3l9.4 17.4h-18.8zM1717.3 289.1l9.4 17.4h-18.8zM1721.5 287.2l9.4 17.4h-18.8zM1725.6 285.4l9.4 17.4h-18.8zM1729.8 283.6l9.4 17.4h-18.8zM1733.9 282.1l9.4 17.4h-18.8zM1738.1 280.8l9.4 17.4h-18.8zM1742.2 279.7l9.4 17.4h-18.8zM1746.4 278.8l9.4 17.4h-18.8zM1750.5 278.2l9.4 17.4h-18.8zM1754.7 277.7l9.4 17.4h-18.8zM1758.8 277.2l9.4 17.4h-18.8zM1763 276.9l9.4 17.4h-18.8zM1767.1 276.9l9.4 17.4h-18.8zM1771.3 277.1l9.4 17.4h-18.8zM1775.4 277.5l9.4 17.4h-18.8zM1779.6 278l9.4 17.4h-18.8zM1783.7 278.6l9.4 17.4h-18.8zM1787.9 279.3l9.4 17.4h-18.8zM1792 280.2l9.4 17.4h-18.8zM1796.2 281.2l9.4 17.4h-18.8zM1800.3 282.5l9.4 17.4h-18.8zM1804.5 284l9.4 17.4h-18.8zM1808.6 285.8l9.4 17.4h-18.8zM1812.8 288l9.4 17.4h-18.8zM1816.9 290.7l9.4 17.4h-18.8zM1821.1 293.8l9.4 17.4h-18.8zM1825.3 297.4l9.4 17.4h-18.8zM1829.4 301.5l9.4 17.4h-18.8zM1833.6 305.6l9.4 17.4h-18.8zM1837.7 309.9l9.4 17.4h-18.8zM1841.9 315.7l9.4 17.4h-18.8zM1846 323.9l9.4 17.4h-18.8zM1850.2 335.6l9.4 17.4h-18.8zM1854.3 355l9.4 17.4h-18.8zM1858.5 383l9.4 17.4h-18.8zM1862.6 423.5l9.4 17.4h-18.8zM1866.8 487l9.4 17.4h-18.8zM1870.9 570l9.4 17.4h-18.8zM1875.1 667l9.4 17.4h-18.8zM1879.2 775l9.4 17.4h-18.8zM1883.4 878l9.4 17.4h-18.8zM1887.5 955l9.4 17.4h-18.8zM1891.7 999l9.4 17.4h-18.8zM1895.8 1005l9.4 17.4h-18.8zM1900 976l9.4 17.4h-18.8zM1904.1 928l9.4 17.4h-18.8zM1908.3 862l9.4 17.4h-18.8zM1912.4 789l9.4 17.4h-18.8zM1916.6 717l9.4 17.4h-18.8zM1920.7 648.5l9.4 17.4h-18.8zM1924.9 585l9.4 17.4h-18.8z" fill="#000" stroke="#000" stroke-width="1"/>
</g>
<path d="M388.2 46.3V1121.4H1926.2" fill="none" stroke="#262626" stroke-width="3.6"/>
<text x="483.3" y="1256.3" font-size="88" text-anchor="middle">25</text>
<text x="690.9" y="1256.3" font-size="88" text-anchor="middle">30</text>
<text x="898.5" y="1256.3" font-size="88" text-anchor="middle">35</text>
<text x="1106.1" y="1256.3" font-size="88" text-anchor="middle">40</text>
<text x="1313.7" y="1256.3" font-size="88" text-anchor="middle">45</text>
<text x="1521.3" y="1256.3" font-size="88" text-anchor="middle">50</text>
<text x="1728.9" y="1256.3" font-size="88" text-anchor="middle">55</text>
<text x="1936.5" y="1256.3" font-size="88" text-anchor="middle">60</text>
<text x="319.2" y="76.6" font-size="87" text-anchor="end">5</text>
<text x="319.2" y="309.9" font-size="87" text-anchor="end">0</text>
<text x="319.2" y="543.4" font-size="87" text-anchor="end">−5</text>
<text x="319.2" y="776.9" font-size="87" text-anchor="end">−10</text>
<text x="319.2" y="1011.5" font-size="87" text-anchor="end">−15</text>
<text x="1012.6" y="1385.7" font-size="87">time (s)</text>
<text transform="translate(96.1,853.8) rotate(-90)" font-size="87">c − c<tspan font-size="70" dy="24.7">bulk</tspan><tspan dy="-24.7"> (mM)</tspan></text>
<line x1="519" y1="112" x2="609" y2="112" stroke="#0000ff" stroke-width="4.2"/><path d="M556 103.7v16.6h3.1L563.5 114.3L567.9 120.3h3.1v-16.6h-3.1L563.5 109.7L559.1 103.7z" fill="#0000ff"/><line x1="519" y1="193.7" x2="609" y2="193.7" stroke="#ffa500" stroke-width="4.2"/><rect x="557.7" y="186.4" width="14.6" height="14.6" fill="#ffa500" fill-opacity="0.45" stroke="#ffa500" stroke-width="4.4"/><line x1="1104" y1="108.7" x2="1195" y2="108.7" stroke="#009620" stroke-width="4.2"/><circle cx="1149.5" cy="108.7" r="6.1" fill="none" stroke="#009620" stroke-width="5.6"/><line x1="1104" y1="195.5" x2="1195" y2="195.5" stroke="#000" stroke-width="4.2"/><path d="M1149.5 184.5l9.9 17.6h-19.8z" fill="#000"/>
<text><tspan x="672.8" y="132" font-size="87">f</tspan><tspan x="701.8" y="152.8" font-size="70">g</tspan></text>
<text><tspan x="669.5" y="217" font-size="87">f</tspan><tspan x="694.1" y="243.3" font-size="70">g </tspan><tspan x="756.9" y="215" font-size="87">+ </tspan><tspan x="832.7" y="217" font-size="87">f</tspan><tspan x="856" y="242.7" font-size="70">L</tspan></text>
<text><tspan x="1247.4" y="130" font-size="87">f</tspan><tspan x="1271.2" y="155" font-size="70">g </tspan><tspan x="1333.9" y="127.7" font-size="87">+ </tspan><tspan x="1409.8" y="130" font-size="87">f</tspan></text>
<text transform="matrix(-1.04 0 0 1 1479.9 154.3)" font-family="'DejaVu Serif','Liberation Serif',serif" font-size="62" stroke="#fff" stroke-width="1.4" paint-order="fill stroke">∇</text>
<text><tspan x="1484.3" y="155.7" font-size="72" textLength="45" lengthAdjust="spacingAndGlyphs">B</tspan></text>
<text><tspan x="1247.4" y="216.5" font-size="87">f</tspan><tspan x="1271.2" y="242.5" font-size="70">g </tspan><tspan x="1333.9" y="214.2" font-size="87">+ </tspan><tspan x="1409.8" y="216.5" font-size="87">f</tspan></text>
<text transform="matrix(-1.04 0 0 1 1479.9 240.8)" font-family="'DejaVu Serif','Liberation Serif',serif" font-size="62" stroke="#fff" stroke-width="1.4" paint-order="fill stroke">∇</text>
<text><tspan x="1484.3" y="242.7" font-size="72" textLength="45" lengthAdjust="spacingAndGlyphs">B</tspan><tspan x="1530" y="242.7" font-size="70"> </tspan><tspan x="1541.2" y="214.2" font-size="87">+ </tspan><tspan x="1615.9" y="216.5" font-size="87">f</tspan><tspan x="1640" y="242.5" font-size="70">L</tspan></text>
</svg>
</body></html>
